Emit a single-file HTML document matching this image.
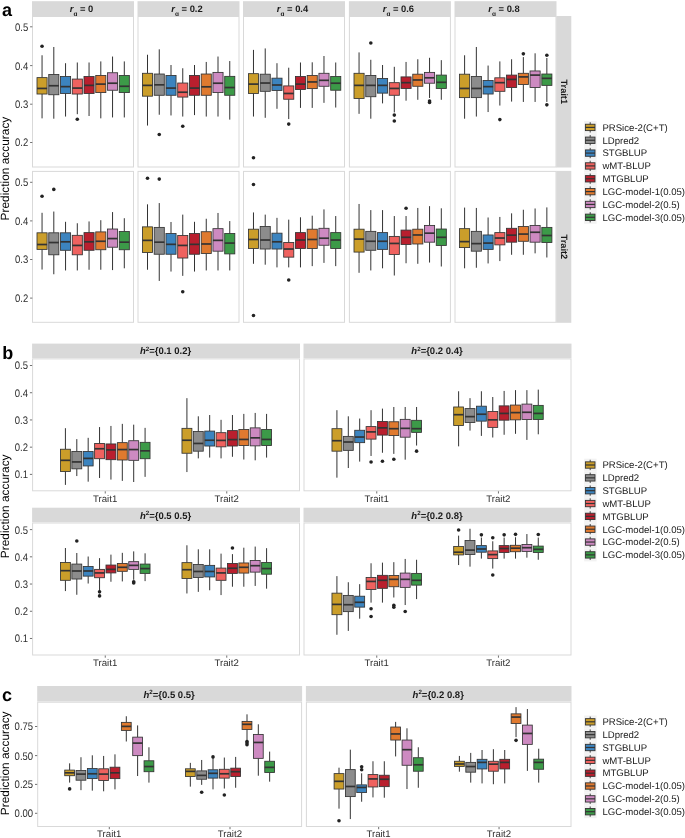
<!DOCTYPE html>
<html><head><meta charset="utf-8"><style>
html,body{margin:0;padding:0;background:#fff;}
body{width:685px;height:838px;overflow:hidden;}
svg{display:block;font-family:"Liberation Sans", sans-serif;will-change:transform;text-rendering:geometricPrecision;}
</style></head><body>
<svg width="685" height="838" viewBox="0 0 685 838">
<rect x="0" y="0" width="685" height="838" fill="#FFFFFF"/>
<text x="2.00" y="16.00" font-size="18" text-anchor="start" font-weight="bold" fill="#000" >a</text>
<rect x="32.00" y="1.20" width="102.00" height="14.80" fill="#D9D9D9"/>
<text x="81.50" y="12" font-size="9.4" font-weight="bold" fill="#1A1A1A" text-anchor="middle"><tspan font-style="italic">r</tspan><tspan font-size="6.5" dy="3.8">g</tspan><tspan dy="-3.8"> = 0</tspan></text>
<rect x="137.50" y="1.20" width="102.00" height="14.80" fill="#D9D9D9"/>
<text x="187.00" y="12" font-size="9.4" font-weight="bold" fill="#1A1A1A" text-anchor="middle"><tspan font-style="italic">r</tspan><tspan font-size="6.5" dy="3.8">g</tspan><tspan dy="-3.8"> = 0.2</tspan></text>
<rect x="243.00" y="1.20" width="102.00" height="14.80" fill="#D9D9D9"/>
<text x="292.50" y="12" font-size="9.4" font-weight="bold" fill="#1A1A1A" text-anchor="middle"><tspan font-style="italic">r</tspan><tspan font-size="6.5" dy="3.8">g</tspan><tspan dy="-3.8"> = 0.4</tspan></text>
<rect x="348.90" y="1.20" width="102.00" height="14.80" fill="#D9D9D9"/>
<text x="398.40" y="12" font-size="9.4" font-weight="bold" fill="#1A1A1A" text-anchor="middle"><tspan font-style="italic">r</tspan><tspan font-size="6.5" dy="3.8">g</tspan><tspan dy="-3.8"> = 0.6</tspan></text>
<rect x="454.50" y="1.20" width="102.00" height="14.80" fill="#D9D9D9"/>
<text x="504.00" y="12" font-size="9.4" font-weight="bold" fill="#1A1A1A" text-anchor="middle"><tspan font-style="italic">r</tspan><tspan font-size="6.5" dy="3.8">g</tspan><tspan dy="-3.8"> = 0.8</tspan></text>
<rect x="32.00" y="16.00" width="102.00" height="151.50" fill="#FFFFFF"/>
<rect x="32.50" y="16.50" width="101.00" height="150.50" fill="none" stroke="#D9D9D9" stroke-width="1"/>
<line x1="42.05" y1="55.28" x2="42.05" y2="77.62" stroke="#333333" stroke-width="1.0"/>
<line x1="42.05" y1="94.02" x2="42.05" y2="118.35" stroke="#333333" stroke-width="1.0"/>
<rect x="37.00" y="77.62" width="10.10" height="16.40" fill="#CB9E2A" stroke="#333333" stroke-width="0.85"/>
<line x1="37.00" y1="88.44" x2="47.09" y2="88.44" stroke="#333333" stroke-width="1.7"/>
<circle cx="42.05" cy="46.27" r="1.8" fill="#222"/>
<line x1="53.80" y1="46.99" x2="53.80" y2="74.56" stroke="#333333" stroke-width="1.0"/>
<line x1="53.80" y1="94.74" x2="53.80" y2="118.71" stroke="#333333" stroke-width="1.0"/>
<rect x="48.75" y="74.56" width="10.10" height="20.18" fill="#8C8C8C" stroke="#333333" stroke-width="0.85"/>
<line x1="48.75" y1="85.73" x2="58.84" y2="85.73" stroke="#333333" stroke-width="1.7"/>
<line x1="65.55" y1="63.21" x2="65.55" y2="76.54" stroke="#333333" stroke-width="1.0"/>
<line x1="65.55" y1="93.48" x2="65.55" y2="116.55" stroke="#333333" stroke-width="1.0"/>
<rect x="60.50" y="76.54" width="10.10" height="16.94" fill="#3C84BF" stroke="#333333" stroke-width="0.85"/>
<line x1="60.50" y1="86.63" x2="70.59" y2="86.63" stroke="#333333" stroke-width="1.7"/>
<line x1="77.30" y1="62.49" x2="77.30" y2="79.07" stroke="#333333" stroke-width="1.0"/>
<line x1="77.30" y1="94.02" x2="77.30" y2="114.20" stroke="#333333" stroke-width="1.0"/>
<rect x="72.25" y="79.07" width="10.10" height="14.96" fill="#EF625F" stroke="#333333" stroke-width="0.85"/>
<line x1="72.25" y1="88.08" x2="82.34" y2="88.08" stroke="#333333" stroke-width="1.7"/>
<circle cx="77.30" cy="119.25" r="1.8" fill="#222"/>
<line x1="89.05" y1="62.49" x2="89.05" y2="76.54" stroke="#333333" stroke-width="1.0"/>
<line x1="89.05" y1="93.48" x2="89.05" y2="116.01" stroke="#333333" stroke-width="1.0"/>
<rect x="84.00" y="76.54" width="10.10" height="16.94" fill="#B91F2E" stroke="#333333" stroke-width="0.85"/>
<line x1="84.00" y1="85.37" x2="94.09" y2="85.37" stroke="#333333" stroke-width="1.7"/>
<line x1="100.80" y1="61.41" x2="100.80" y2="75.46" stroke="#333333" stroke-width="1.0"/>
<line x1="100.80" y1="92.58" x2="100.80" y2="118.35" stroke="#333333" stroke-width="1.0"/>
<rect x="95.75" y="75.46" width="10.10" height="17.12" fill="#E07A2F" stroke="#333333" stroke-width="0.85"/>
<line x1="95.75" y1="84.11" x2="105.84" y2="84.11" stroke="#333333" stroke-width="1.7"/>
<line x1="112.55" y1="56.54" x2="112.55" y2="72.76" stroke="#333333" stroke-width="1.0"/>
<line x1="112.55" y1="90.24" x2="112.55" y2="117.45" stroke="#333333" stroke-width="1.0"/>
<rect x="107.50" y="72.76" width="10.10" height="17.48" fill="#CD8AC1" stroke="#333333" stroke-width="0.85"/>
<line x1="107.50" y1="83.21" x2="117.59" y2="83.21" stroke="#333333" stroke-width="1.7"/>
<line x1="124.30" y1="61.41" x2="124.30" y2="75.46" stroke="#333333" stroke-width="1.0"/>
<line x1="124.30" y1="92.58" x2="124.30" y2="117.45" stroke="#333333" stroke-width="1.0"/>
<rect x="119.25" y="75.46" width="10.10" height="17.12" fill="#3C9A48" stroke="#333333" stroke-width="0.85"/>
<line x1="119.25" y1="86.27" x2="129.34" y2="86.27" stroke="#333333" stroke-width="1.7"/>
<rect x="137.50" y="16.00" width="102.00" height="151.50" fill="#FFFFFF"/>
<rect x="138.00" y="16.50" width="101.00" height="150.50" fill="none" stroke="#D9D9D9" stroke-width="1"/>
<line x1="147.50" y1="54.74" x2="147.50" y2="73.30" stroke="#333333" stroke-width="1.0"/>
<line x1="147.50" y1="96.18" x2="147.50" y2="125.56" stroke="#333333" stroke-width="1.0"/>
<rect x="142.45" y="73.30" width="10.10" height="22.88" fill="#CB9E2A" stroke="#333333" stroke-width="0.85"/>
<line x1="142.45" y1="85.37" x2="152.56" y2="85.37" stroke="#333333" stroke-width="1.7"/>
<line x1="159.25" y1="49.34" x2="159.25" y2="74.02" stroke="#333333" stroke-width="1.0"/>
<line x1="159.25" y1="95.28" x2="159.25" y2="114.74" stroke="#333333" stroke-width="1.0"/>
<rect x="154.20" y="74.02" width="10.10" height="21.26" fill="#8C8C8C" stroke="#333333" stroke-width="0.85"/>
<line x1="154.20" y1="84.83" x2="164.31" y2="84.83" stroke="#333333" stroke-width="1.7"/>
<circle cx="159.25" cy="134.56" r="1.8" fill="#222"/>
<line x1="171.00" y1="65.01" x2="171.00" y2="75.46" stroke="#333333" stroke-width="1.0"/>
<line x1="171.00" y1="95.28" x2="171.00" y2="115.46" stroke="#333333" stroke-width="1.0"/>
<rect x="165.95" y="75.46" width="10.10" height="19.82" fill="#3C84BF" stroke="#333333" stroke-width="0.85"/>
<line x1="165.95" y1="88.08" x2="176.06" y2="88.08" stroke="#333333" stroke-width="1.7"/>
<line x1="182.75" y1="68.26" x2="182.75" y2="83.03" stroke="#333333" stroke-width="1.0"/>
<line x1="182.75" y1="97.09" x2="182.75" y2="116.55" stroke="#333333" stroke-width="1.0"/>
<rect x="177.70" y="83.03" width="10.10" height="14.05" fill="#EF625F" stroke="#333333" stroke-width="0.85"/>
<line x1="177.70" y1="92.22" x2="187.81" y2="92.22" stroke="#333333" stroke-width="1.7"/>
<circle cx="182.75" cy="126.28" r="1.8" fill="#222"/>
<line x1="194.50" y1="65.01" x2="194.50" y2="75.46" stroke="#333333" stroke-width="1.0"/>
<line x1="194.50" y1="95.28" x2="194.50" y2="115.10" stroke="#333333" stroke-width="1.0"/>
<rect x="189.45" y="75.46" width="10.10" height="19.82" fill="#B91F2E" stroke="#333333" stroke-width="0.85"/>
<line x1="189.45" y1="88.08" x2="199.56" y2="88.08" stroke="#333333" stroke-width="1.7"/>
<line x1="206.25" y1="61.95" x2="206.25" y2="74.02" stroke="#333333" stroke-width="1.0"/>
<line x1="206.25" y1="95.28" x2="206.25" y2="116.55" stroke="#333333" stroke-width="1.0"/>
<rect x="201.20" y="74.02" width="10.10" height="21.26" fill="#E07A2F" stroke="#333333" stroke-width="0.85"/>
<line x1="201.20" y1="86.81" x2="211.31" y2="86.81" stroke="#333333" stroke-width="1.7"/>
<line x1="218.00" y1="56.54" x2="218.00" y2="72.40" stroke="#333333" stroke-width="1.0"/>
<line x1="218.00" y1="92.58" x2="218.00" y2="116.55" stroke="#333333" stroke-width="1.0"/>
<rect x="212.95" y="72.40" width="10.10" height="20.18" fill="#CD8AC1" stroke="#333333" stroke-width="0.85"/>
<line x1="212.95" y1="83.21" x2="223.06" y2="83.21" stroke="#333333" stroke-width="1.7"/>
<line x1="229.75" y1="61.05" x2="229.75" y2="76.36" stroke="#333333" stroke-width="1.0"/>
<line x1="229.75" y1="95.28" x2="229.75" y2="119.61" stroke="#333333" stroke-width="1.0"/>
<rect x="224.70" y="76.36" width="10.10" height="18.92" fill="#3C9A48" stroke="#333333" stroke-width="0.85"/>
<line x1="224.70" y1="87.54" x2="234.81" y2="87.54" stroke="#333333" stroke-width="1.7"/>
<rect x="243.00" y="16.00" width="102.00" height="151.50" fill="#FFFFFF"/>
<rect x="243.50" y="16.50" width="101.00" height="150.50" fill="none" stroke="#D9D9D9" stroke-width="1"/>
<line x1="253.48" y1="49.88" x2="253.48" y2="73.66" stroke="#333333" stroke-width="1.0"/>
<line x1="253.48" y1="93.48" x2="253.48" y2="116.55" stroke="#333333" stroke-width="1.0"/>
<rect x="248.43" y="73.66" width="10.10" height="19.82" fill="#CB9E2A" stroke="#333333" stroke-width="0.85"/>
<line x1="248.43" y1="84.11" x2="258.53" y2="84.11" stroke="#333333" stroke-width="1.7"/>
<circle cx="253.48" cy="157.81" r="1.8" fill="#222"/>
<line x1="265.23" y1="48.43" x2="265.23" y2="74.20" stroke="#333333" stroke-width="1.0"/>
<line x1="265.23" y1="91.32" x2="265.23" y2="117.81" stroke="#333333" stroke-width="1.0"/>
<rect x="260.18" y="74.20" width="10.10" height="17.12" fill="#8C8C8C" stroke="#333333" stroke-width="0.85"/>
<line x1="260.18" y1="83.03" x2="270.28" y2="83.03" stroke="#333333" stroke-width="1.7"/>
<line x1="276.98" y1="63.21" x2="276.98" y2="78.17" stroke="#333333" stroke-width="1.0"/>
<line x1="276.98" y1="90.42" x2="276.98" y2="108.80" stroke="#333333" stroke-width="1.0"/>
<rect x="271.93" y="78.17" width="10.10" height="12.25" fill="#3C84BF" stroke="#333333" stroke-width="0.85"/>
<line x1="271.93" y1="85.01" x2="282.03" y2="85.01" stroke="#333333" stroke-width="1.7"/>
<line x1="288.73" y1="67.71" x2="288.73" y2="85.91" stroke="#333333" stroke-width="1.0"/>
<line x1="288.73" y1="99.25" x2="288.73" y2="119.07" stroke="#333333" stroke-width="1.0"/>
<rect x="283.68" y="85.91" width="10.10" height="13.33" fill="#EF625F" stroke="#333333" stroke-width="0.85"/>
<line x1="283.68" y1="93.48" x2="293.78" y2="93.48" stroke="#333333" stroke-width="1.7"/>
<circle cx="288.73" cy="124.11" r="1.8" fill="#222"/>
<line x1="300.48" y1="62.49" x2="300.48" y2="76.54" stroke="#333333" stroke-width="1.0"/>
<line x1="300.48" y1="89.52" x2="300.48" y2="107.90" stroke="#333333" stroke-width="1.0"/>
<rect x="295.43" y="76.54" width="10.10" height="12.97" fill="#B91F2E" stroke="#333333" stroke-width="0.85"/>
<line x1="295.43" y1="84.11" x2="305.53" y2="84.11" stroke="#333333" stroke-width="1.7"/>
<line x1="312.23" y1="62.31" x2="312.23" y2="75.46" stroke="#333333" stroke-width="1.0"/>
<line x1="312.23" y1="88.62" x2="312.23" y2="107.90" stroke="#333333" stroke-width="1.0"/>
<rect x="307.18" y="75.46" width="10.10" height="13.15" fill="#E07A2F" stroke="#333333" stroke-width="0.85"/>
<line x1="307.18" y1="81.95" x2="317.28" y2="81.95" stroke="#333333" stroke-width="1.7"/>
<line x1="323.98" y1="56.00" x2="323.98" y2="73.30" stroke="#333333" stroke-width="1.0"/>
<line x1="323.98" y1="86.27" x2="323.98" y2="102.85" stroke="#333333" stroke-width="1.0"/>
<rect x="318.93" y="73.30" width="10.10" height="12.97" fill="#CD8AC1" stroke="#333333" stroke-width="0.85"/>
<line x1="318.93" y1="80.33" x2="329.03" y2="80.33" stroke="#333333" stroke-width="1.7"/>
<line x1="335.73" y1="62.49" x2="335.73" y2="76.54" stroke="#333333" stroke-width="1.0"/>
<line x1="335.73" y1="90.24" x2="335.73" y2="107.54" stroke="#333333" stroke-width="1.0"/>
<rect x="330.68" y="76.54" width="10.10" height="13.69" fill="#3C9A48" stroke="#333333" stroke-width="0.85"/>
<line x1="330.68" y1="83.21" x2="340.78" y2="83.21" stroke="#333333" stroke-width="1.7"/>
<rect x="348.90" y="16.00" width="102.00" height="151.50" fill="#FFFFFF"/>
<rect x="349.40" y="16.50" width="101.00" height="150.50" fill="none" stroke="#D9D9D9" stroke-width="1"/>
<line x1="359.06" y1="52.40" x2="359.06" y2="73.30" stroke="#333333" stroke-width="1.0"/>
<line x1="359.06" y1="98.53" x2="359.06" y2="113.84" stroke="#333333" stroke-width="1.0"/>
<rect x="354.00" y="73.30" width="10.10" height="25.23" fill="#CB9E2A" stroke="#333333" stroke-width="0.85"/>
<line x1="354.00" y1="85.37" x2="364.11" y2="85.37" stroke="#333333" stroke-width="1.7"/>
<line x1="370.81" y1="59.79" x2="370.81" y2="75.46" stroke="#333333" stroke-width="1.0"/>
<line x1="370.81" y1="96.73" x2="370.81" y2="118.71" stroke="#333333" stroke-width="1.0"/>
<rect x="365.75" y="75.46" width="10.10" height="21.26" fill="#8C8C8C" stroke="#333333" stroke-width="0.85"/>
<line x1="365.75" y1="85.37" x2="375.86" y2="85.37" stroke="#333333" stroke-width="1.7"/>
<circle cx="370.81" cy="43.03" r="1.8" fill="#222"/>
<line x1="382.56" y1="65.01" x2="382.56" y2="78.53" stroke="#333333" stroke-width="1.0"/>
<line x1="382.56" y1="93.12" x2="382.56" y2="103.39" stroke="#333333" stroke-width="1.0"/>
<rect x="377.50" y="78.53" width="10.10" height="14.60" fill="#3C84BF" stroke="#333333" stroke-width="0.85"/>
<line x1="377.50" y1="85.37" x2="387.61" y2="85.37" stroke="#333333" stroke-width="1.7"/>
<line x1="394.31" y1="66.81" x2="394.31" y2="82.67" stroke="#333333" stroke-width="1.0"/>
<line x1="394.31" y1="95.28" x2="394.31" y2="112.40" stroke="#333333" stroke-width="1.0"/>
<rect x="389.25" y="82.67" width="10.10" height="12.61" fill="#EF625F" stroke="#333333" stroke-width="0.85"/>
<line x1="389.25" y1="88.44" x2="399.36" y2="88.44" stroke="#333333" stroke-width="1.7"/>
<circle cx="394.31" cy="115.10" r="1.8" fill="#222"/>
<circle cx="394.31" cy="121.05" r="1.8" fill="#222"/>
<line x1="406.06" y1="61.95" x2="406.06" y2="76.90" stroke="#333333" stroke-width="1.0"/>
<line x1="406.06" y1="88.44" x2="406.06" y2="100.69" stroke="#333333" stroke-width="1.0"/>
<rect x="401.00" y="76.90" width="10.10" height="11.53" fill="#B91F2E" stroke="#333333" stroke-width="0.85"/>
<line x1="401.00" y1="82.67" x2="411.11" y2="82.67" stroke="#333333" stroke-width="1.7"/>
<line x1="417.81" y1="59.25" x2="417.81" y2="74.20" stroke="#333333" stroke-width="1.0"/>
<line x1="417.81" y1="86.27" x2="417.81" y2="99.79" stroke="#333333" stroke-width="1.0"/>
<rect x="412.75" y="74.20" width="10.10" height="12.07" fill="#E07A2F" stroke="#333333" stroke-width="0.85"/>
<line x1="412.75" y1="79.97" x2="422.86" y2="79.97" stroke="#333333" stroke-width="1.7"/>
<line x1="429.56" y1="57.80" x2="429.56" y2="72.40" stroke="#333333" stroke-width="1.0"/>
<line x1="429.56" y1="83.21" x2="429.56" y2="97.99" stroke="#333333" stroke-width="1.0"/>
<rect x="424.50" y="72.40" width="10.10" height="10.81" fill="#CD8AC1" stroke="#333333" stroke-width="0.85"/>
<line x1="424.50" y1="77.81" x2="434.61" y2="77.81" stroke="#333333" stroke-width="1.7"/>
<circle cx="429.56" cy="101.05" r="1.8" fill="#222"/>
<circle cx="429.56" cy="102.49" r="1.8" fill="#222"/>
<line x1="441.31" y1="60.15" x2="441.31" y2="75.10" stroke="#333333" stroke-width="1.0"/>
<line x1="441.31" y1="88.44" x2="441.31" y2="99.79" stroke="#333333" stroke-width="1.0"/>
<rect x="436.25" y="75.10" width="10.10" height="13.33" fill="#3C9A48" stroke="#333333" stroke-width="0.85"/>
<line x1="436.25" y1="82.31" x2="446.36" y2="82.31" stroke="#333333" stroke-width="1.7"/>
<rect x="454.50" y="16.00" width="102.00" height="151.50" fill="#FFFFFF"/>
<rect x="455.00" y="16.50" width="101.00" height="150.50" fill="none" stroke="#D9D9D9" stroke-width="1"/>
<line x1="464.60" y1="55.28" x2="464.60" y2="74.20" stroke="#333333" stroke-width="1.0"/>
<line x1="464.60" y1="97.63" x2="464.60" y2="118.71" stroke="#333333" stroke-width="1.0"/>
<rect x="459.55" y="74.20" width="10.10" height="23.42" fill="#CB9E2A" stroke="#333333" stroke-width="0.85"/>
<line x1="459.55" y1="88.44" x2="469.65" y2="88.44" stroke="#333333" stroke-width="1.7"/>
<line x1="476.35" y1="46.99" x2="476.35" y2="76.54" stroke="#333333" stroke-width="1.0"/>
<line x1="476.35" y1="97.63" x2="476.35" y2="116.55" stroke="#333333" stroke-width="1.0"/>
<rect x="471.30" y="76.54" width="10.10" height="21.08" fill="#8C8C8C" stroke="#333333" stroke-width="0.85"/>
<line x1="471.30" y1="88.44" x2="481.40" y2="88.44" stroke="#333333" stroke-width="1.7"/>
<line x1="488.10" y1="65.55" x2="488.10" y2="80.51" stroke="#333333" stroke-width="1.0"/>
<line x1="488.10" y1="94.02" x2="488.10" y2="112.04" stroke="#333333" stroke-width="1.0"/>
<rect x="483.05" y="80.51" width="10.10" height="13.51" fill="#3C84BF" stroke="#333333" stroke-width="0.85"/>
<line x1="483.05" y1="86.63" x2="493.15" y2="86.63" stroke="#333333" stroke-width="1.7"/>
<line x1="499.85" y1="61.41" x2="499.85" y2="77.81" stroke="#333333" stroke-width="1.0"/>
<line x1="499.85" y1="91.32" x2="499.85" y2="105.55" stroke="#333333" stroke-width="1.0"/>
<rect x="494.80" y="77.81" width="10.10" height="13.51" fill="#EF625F" stroke="#333333" stroke-width="0.85"/>
<line x1="494.80" y1="82.67" x2="504.90" y2="82.67" stroke="#333333" stroke-width="1.7"/>
<circle cx="499.85" cy="119.61" r="1.8" fill="#222"/>
<line x1="511.60" y1="59.25" x2="511.60" y2="75.10" stroke="#333333" stroke-width="1.0"/>
<line x1="511.60" y1="87.54" x2="511.60" y2="101.59" stroke="#333333" stroke-width="1.0"/>
<rect x="506.55" y="75.10" width="10.10" height="12.43" fill="#B91F2E" stroke="#333333" stroke-width="0.85"/>
<line x1="506.55" y1="79.43" x2="516.64" y2="79.43" stroke="#333333" stroke-width="1.7"/>
<line x1="523.35" y1="57.08" x2="523.35" y2="73.30" stroke="#333333" stroke-width="1.0"/>
<line x1="523.35" y1="84.47" x2="523.35" y2="101.95" stroke="#333333" stroke-width="1.0"/>
<rect x="518.30" y="73.30" width="10.10" height="11.17" fill="#E07A2F" stroke="#333333" stroke-width="0.85"/>
<line x1="518.30" y1="76.90" x2="528.39" y2="76.90" stroke="#333333" stroke-width="1.7"/>
<circle cx="523.35" cy="53.84" r="1.8" fill="#222"/>
<line x1="535.10" y1="53.30" x2="535.10" y2="70.96" stroke="#333333" stroke-width="1.0"/>
<line x1="535.10" y1="87.54" x2="535.10" y2="101.95" stroke="#333333" stroke-width="1.0"/>
<rect x="530.05" y="70.96" width="10.10" height="16.58" fill="#CD8AC1" stroke="#333333" stroke-width="0.85"/>
<line x1="530.05" y1="75.10" x2="540.14" y2="75.10" stroke="#333333" stroke-width="1.7"/>
<line x1="546.85" y1="57.98" x2="546.85" y2="74.02" stroke="#333333" stroke-width="1.0"/>
<line x1="546.85" y1="85.37" x2="546.85" y2="101.95" stroke="#333333" stroke-width="1.0"/>
<rect x="541.80" y="74.02" width="10.10" height="11.35" fill="#3C9A48" stroke="#333333" stroke-width="0.85"/>
<line x1="541.80" y1="78.35" x2="551.89" y2="78.35" stroke="#333333" stroke-width="1.7"/>
<circle cx="546.85" cy="55.28" r="1.8" fill="#222"/>
<circle cx="546.85" cy="104.83" r="1.8" fill="#222"/>
<line x1="30.10" y1="26.80" x2="32.30" y2="26.80" stroke="#4D4D4D" stroke-width="0.8"/>
<text x="0" y="0" transform="translate(28.20,30.70) scale(0.97,1.12)" font-size="9.8" text-anchor="end" font-weight="normal" fill="#2E2E2E" >0.5</text>
<line x1="30.10" y1="65.60" x2="32.30" y2="65.60" stroke="#4D4D4D" stroke-width="0.8"/>
<text x="0" y="0" transform="translate(28.20,69.50) scale(0.97,1.12)" font-size="9.8" text-anchor="end" font-weight="normal" fill="#2E2E2E" >0.4</text>
<line x1="30.10" y1="104.20" x2="32.30" y2="104.20" stroke="#4D4D4D" stroke-width="0.8"/>
<text x="0" y="0" transform="translate(28.20,108.10) scale(0.97,1.12)" font-size="9.8" text-anchor="end" font-weight="normal" fill="#2E2E2E" >0.3</text>
<line x1="30.10" y1="142.50" x2="32.30" y2="142.50" stroke="#4D4D4D" stroke-width="0.8"/>
<text x="0" y="0" transform="translate(28.20,146.40) scale(0.97,1.12)" font-size="9.8" text-anchor="end" font-weight="normal" fill="#2E2E2E" >0.2</text>
<rect x="556.20" y="16.00" width="15.10" height="151.50" fill="#D9D9D9"/>
<text x="0" y="0" font-size="9.2" font-weight="bold" fill="#1A1A1A" text-anchor="middle" transform="translate(560.55,91.75) rotate(90)">Trait1</text>
<rect x="32.00" y="170.90" width="102.00" height="151.90" fill="#FFFFFF"/>
<rect x="32.50" y="171.40" width="101.00" height="150.90" fill="none" stroke="#D9D9D9" stroke-width="1"/>
<line x1="42.05" y1="212.80" x2="42.05" y2="232.81" stroke="#333333" stroke-width="1.0"/>
<line x1="42.05" y1="249.38" x2="42.05" y2="269.56" stroke="#333333" stroke-width="1.0"/>
<rect x="37.00" y="232.81" width="10.10" height="16.58" fill="#CB9E2A" stroke="#333333" stroke-width="0.85"/>
<line x1="37.00" y1="244.52" x2="47.09" y2="244.52" stroke="#333333" stroke-width="1.7"/>
<circle cx="42.05" cy="196.23" r="1.8" fill="#222"/>
<line x1="53.80" y1="211.54" x2="53.80" y2="232.81" stroke="#333333" stroke-width="1.0"/>
<line x1="53.80" y1="254.79" x2="53.80" y2="274.25" stroke="#333333" stroke-width="1.0"/>
<rect x="48.75" y="232.81" width="10.10" height="21.98" fill="#8C8C8C" stroke="#333333" stroke-width="0.85"/>
<line x1="48.75" y1="242.54" x2="58.84" y2="242.54" stroke="#333333" stroke-width="1.7"/>
<circle cx="53.80" cy="189.38" r="1.8" fill="#222"/>
<line x1="65.55" y1="221.81" x2="65.55" y2="232.81" stroke="#333333" stroke-width="1.0"/>
<line x1="65.55" y1="250.28" x2="65.55" y2="270.46" stroke="#333333" stroke-width="1.0"/>
<rect x="60.50" y="232.81" width="10.10" height="17.48" fill="#3C84BF" stroke="#333333" stroke-width="0.85"/>
<line x1="60.50" y1="241.81" x2="70.59" y2="241.81" stroke="#333333" stroke-width="1.7"/>
<line x1="77.30" y1="223.26" x2="77.30" y2="235.33" stroke="#333333" stroke-width="1.0"/>
<line x1="77.30" y1="254.79" x2="77.30" y2="270.46" stroke="#333333" stroke-width="1.0"/>
<rect x="72.25" y="235.33" width="10.10" height="19.46" fill="#EF625F" stroke="#333333" stroke-width="0.85"/>
<line x1="72.25" y1="245.42" x2="82.34" y2="245.42" stroke="#333333" stroke-width="1.7"/>
<line x1="89.05" y1="221.45" x2="89.05" y2="232.62" stroke="#333333" stroke-width="1.0"/>
<line x1="89.05" y1="250.28" x2="89.05" y2="269.74" stroke="#333333" stroke-width="1.0"/>
<rect x="84.00" y="232.62" width="10.10" height="17.66" fill="#B91F2E" stroke="#333333" stroke-width="0.85"/>
<line x1="84.00" y1="241.81" x2="94.09" y2="241.81" stroke="#333333" stroke-width="1.7"/>
<line x1="100.80" y1="220.19" x2="100.80" y2="231.90" stroke="#333333" stroke-width="1.0"/>
<line x1="100.80" y1="249.74" x2="100.80" y2="269.74" stroke="#333333" stroke-width="1.0"/>
<rect x="95.75" y="231.90" width="10.10" height="17.84" fill="#E07A2F" stroke="#333333" stroke-width="0.85"/>
<line x1="95.75" y1="241.27" x2="105.84" y2="241.27" stroke="#333333" stroke-width="1.7"/>
<line x1="112.55" y1="212.08" x2="112.55" y2="229.02" stroke="#333333" stroke-width="1.0"/>
<line x1="112.55" y1="247.22" x2="112.55" y2="270.10" stroke="#333333" stroke-width="1.0"/>
<rect x="107.50" y="229.02" width="10.10" height="18.20" fill="#CD8AC1" stroke="#333333" stroke-width="0.85"/>
<line x1="107.50" y1="238.57" x2="117.59" y2="238.57" stroke="#333333" stroke-width="1.7"/>
<line x1="124.30" y1="218.21" x2="124.30" y2="231.54" stroke="#333333" stroke-width="1.0"/>
<line x1="124.30" y1="249.74" x2="124.30" y2="268.30" stroke="#333333" stroke-width="1.0"/>
<rect x="119.25" y="231.54" width="10.10" height="18.20" fill="#3C9A48" stroke="#333333" stroke-width="0.85"/>
<line x1="119.25" y1="242.18" x2="129.34" y2="242.18" stroke="#333333" stroke-width="1.7"/>
<rect x="137.50" y="170.90" width="102.00" height="151.90" fill="#FFFFFF"/>
<rect x="138.00" y="171.40" width="101.00" height="150.90" fill="none" stroke="#D9D9D9" stroke-width="1"/>
<line x1="147.50" y1="204.34" x2="147.50" y2="226.86" stroke="#333333" stroke-width="1.0"/>
<line x1="147.50" y1="252.45" x2="147.50" y2="269.74" stroke="#333333" stroke-width="1.0"/>
<rect x="142.45" y="226.86" width="10.10" height="25.59" fill="#CB9E2A" stroke="#333333" stroke-width="0.85"/>
<line x1="142.45" y1="240.37" x2="152.56" y2="240.37" stroke="#333333" stroke-width="1.7"/>
<circle cx="147.50" cy="178.21" r="1.8" fill="#222"/>
<line x1="159.25" y1="203.07" x2="159.25" y2="227.40" stroke="#333333" stroke-width="1.0"/>
<line x1="159.25" y1="254.25" x2="159.25" y2="280.92" stroke="#333333" stroke-width="1.0"/>
<rect x="154.20" y="227.40" width="10.10" height="26.85" fill="#8C8C8C" stroke="#333333" stroke-width="0.85"/>
<line x1="154.20" y1="242.18" x2="164.31" y2="242.18" stroke="#333333" stroke-width="1.7"/>
<circle cx="159.25" cy="179.11" r="1.8" fill="#222"/>
<line x1="171.00" y1="221.99" x2="171.00" y2="233.53" stroke="#333333" stroke-width="1.0"/>
<line x1="171.00" y1="254.25" x2="171.00" y2="271.55" stroke="#333333" stroke-width="1.0"/>
<rect x="165.95" y="233.53" width="10.10" height="20.72" fill="#3C84BF" stroke="#333333" stroke-width="0.85"/>
<line x1="165.95" y1="244.34" x2="176.06" y2="244.34" stroke="#333333" stroke-width="1.7"/>
<line x1="182.75" y1="214.61" x2="182.75" y2="235.51" stroke="#333333" stroke-width="1.0"/>
<line x1="182.75" y1="258.03" x2="182.75" y2="275.87" stroke="#333333" stroke-width="1.0"/>
<rect x="177.70" y="235.51" width="10.10" height="22.52" fill="#EF625F" stroke="#333333" stroke-width="0.85"/>
<line x1="177.70" y1="245.42" x2="187.81" y2="245.42" stroke="#333333" stroke-width="1.7"/>
<circle cx="182.75" cy="291.73" r="1.8" fill="#222"/>
<line x1="194.50" y1="221.81" x2="194.50" y2="233.53" stroke="#333333" stroke-width="1.0"/>
<line x1="194.50" y1="254.25" x2="194.50" y2="271.55" stroke="#333333" stroke-width="1.0"/>
<rect x="189.45" y="233.53" width="10.10" height="20.72" fill="#B91F2E" stroke="#333333" stroke-width="0.85"/>
<line x1="189.45" y1="244.34" x2="199.56" y2="244.34" stroke="#333333" stroke-width="1.7"/>
<line x1="206.25" y1="218.75" x2="206.25" y2="231.72" stroke="#333333" stroke-width="1.0"/>
<line x1="206.25" y1="253.53" x2="206.25" y2="270.46" stroke="#333333" stroke-width="1.0"/>
<rect x="201.20" y="231.72" width="10.10" height="21.80" fill="#E07A2F" stroke="#333333" stroke-width="0.85"/>
<line x1="201.20" y1="243.98" x2="211.31" y2="243.98" stroke="#333333" stroke-width="1.7"/>
<line x1="218.00" y1="212.98" x2="218.00" y2="228.66" stroke="#333333" stroke-width="1.0"/>
<line x1="218.00" y1="251.18" x2="218.00" y2="270.46" stroke="#333333" stroke-width="1.0"/>
<rect x="212.95" y="228.66" width="10.10" height="22.52" fill="#CD8AC1" stroke="#333333" stroke-width="0.85"/>
<line x1="212.95" y1="240.37" x2="223.06" y2="240.37" stroke="#333333" stroke-width="1.7"/>
<line x1="229.75" y1="221.09" x2="229.75" y2="233.53" stroke="#333333" stroke-width="1.0"/>
<line x1="229.75" y1="253.89" x2="229.75" y2="270.46" stroke="#333333" stroke-width="1.0"/>
<rect x="224.70" y="233.53" width="10.10" height="20.36" fill="#3C9A48" stroke="#333333" stroke-width="0.85"/>
<line x1="224.70" y1="243.08" x2="234.81" y2="243.08" stroke="#333333" stroke-width="1.7"/>
<rect x="243.00" y="170.90" width="102.00" height="151.90" fill="#FFFFFF"/>
<rect x="243.50" y="171.40" width="101.00" height="150.90" fill="none" stroke="#D9D9D9" stroke-width="1"/>
<line x1="253.48" y1="212.44" x2="253.48" y2="229.20" stroke="#333333" stroke-width="1.0"/>
<line x1="253.48" y1="248.48" x2="253.48" y2="263.80" stroke="#333333" stroke-width="1.0"/>
<rect x="248.43" y="229.20" width="10.10" height="19.28" fill="#CB9E2A" stroke="#333333" stroke-width="0.85"/>
<line x1="248.43" y1="239.47" x2="258.53" y2="239.47" stroke="#333333" stroke-width="1.7"/>
<circle cx="253.48" cy="184.51" r="1.8" fill="#222"/>
<circle cx="253.48" cy="315.51" r="1.8" fill="#222"/>
<line x1="265.23" y1="214.61" x2="265.23" y2="226.50" stroke="#333333" stroke-width="1.0"/>
<line x1="265.23" y1="249.02" x2="265.23" y2="264.70" stroke="#333333" stroke-width="1.0"/>
<rect x="260.18" y="226.50" width="10.10" height="22.52" fill="#8C8C8C" stroke="#333333" stroke-width="0.85"/>
<line x1="260.18" y1="240.01" x2="270.28" y2="240.01" stroke="#333333" stroke-width="1.7"/>
<line x1="276.98" y1="217.85" x2="276.98" y2="233.17" stroke="#333333" stroke-width="1.0"/>
<line x1="276.98" y1="249.02" x2="276.98" y2="267.40" stroke="#333333" stroke-width="1.0"/>
<rect x="271.93" y="233.17" width="10.10" height="15.86" fill="#3C84BF" stroke="#333333" stroke-width="0.85"/>
<line x1="271.93" y1="241.81" x2="282.03" y2="241.81" stroke="#333333" stroke-width="1.7"/>
<line x1="288.73" y1="219.65" x2="288.73" y2="242.54" stroke="#333333" stroke-width="1.0"/>
<line x1="288.73" y1="257.13" x2="288.73" y2="267.40" stroke="#333333" stroke-width="1.0"/>
<rect x="283.68" y="242.54" width="10.10" height="14.60" fill="#EF625F" stroke="#333333" stroke-width="0.85"/>
<line x1="283.68" y1="249.02" x2="293.78" y2="249.02" stroke="#333333" stroke-width="1.7"/>
<circle cx="288.73" cy="280.01" r="1.8" fill="#222"/>
<line x1="300.48" y1="217.31" x2="300.48" y2="232.62" stroke="#333333" stroke-width="1.0"/>
<line x1="300.48" y1="248.48" x2="300.48" y2="267.40" stroke="#333333" stroke-width="1.0"/>
<rect x="295.43" y="232.62" width="10.10" height="15.86" fill="#B91F2E" stroke="#333333" stroke-width="0.85"/>
<line x1="295.43" y1="240.01" x2="305.53" y2="240.01" stroke="#333333" stroke-width="1.7"/>
<line x1="312.23" y1="215.69" x2="312.23" y2="229.20" stroke="#333333" stroke-width="1.0"/>
<line x1="312.23" y1="248.48" x2="312.23" y2="266.14" stroke="#333333" stroke-width="1.0"/>
<rect x="307.18" y="229.20" width="10.10" height="19.28" fill="#E07A2F" stroke="#333333" stroke-width="0.85"/>
<line x1="307.18" y1="239.47" x2="317.28" y2="239.47" stroke="#333333" stroke-width="1.7"/>
<line x1="323.98" y1="209.38" x2="323.98" y2="228.30" stroke="#333333" stroke-width="1.0"/>
<line x1="323.98" y1="245.24" x2="323.98" y2="262.90" stroke="#333333" stroke-width="1.0"/>
<rect x="318.93" y="228.30" width="10.10" height="16.94" fill="#CD8AC1" stroke="#333333" stroke-width="0.85"/>
<line x1="318.93" y1="238.21" x2="329.03" y2="238.21" stroke="#333333" stroke-width="1.7"/>
<line x1="335.73" y1="216.05" x2="335.73" y2="232.62" stroke="#333333" stroke-width="1.0"/>
<line x1="335.73" y1="248.48" x2="335.73" y2="266.14" stroke="#333333" stroke-width="1.0"/>
<rect x="330.68" y="232.62" width="10.10" height="15.86" fill="#3C9A48" stroke="#333333" stroke-width="0.85"/>
<line x1="330.68" y1="240.01" x2="340.78" y2="240.01" stroke="#333333" stroke-width="1.7"/>
<rect x="348.90" y="170.90" width="102.00" height="151.90" fill="#FFFFFF"/>
<rect x="349.40" y="171.40" width="101.00" height="150.90" fill="none" stroke="#D9D9D9" stroke-width="1"/>
<line x1="359.06" y1="203.97" x2="359.06" y2="229.20" stroke="#333333" stroke-width="1.0"/>
<line x1="359.06" y1="252.09" x2="359.06" y2="272.81" stroke="#333333" stroke-width="1.0"/>
<rect x="354.00" y="229.20" width="10.10" height="22.88" fill="#CB9E2A" stroke="#333333" stroke-width="0.85"/>
<line x1="354.00" y1="239.11" x2="364.11" y2="239.11" stroke="#333333" stroke-width="1.7"/>
<line x1="370.81" y1="210.10" x2="370.81" y2="231.36" stroke="#333333" stroke-width="1.0"/>
<line x1="370.81" y1="250.28" x2="370.81" y2="270.46" stroke="#333333" stroke-width="1.0"/>
<rect x="365.75" y="231.36" width="10.10" height="18.92" fill="#8C8C8C" stroke="#333333" stroke-width="0.85"/>
<line x1="365.75" y1="241.27" x2="375.86" y2="241.27" stroke="#333333" stroke-width="1.7"/>
<line x1="382.56" y1="210.10" x2="382.56" y2="232.62" stroke="#333333" stroke-width="1.0"/>
<line x1="382.56" y1="249.38" x2="382.56" y2="268.30" stroke="#333333" stroke-width="1.0"/>
<rect x="377.50" y="232.62" width="10.10" height="16.76" fill="#3C84BF" stroke="#333333" stroke-width="0.85"/>
<line x1="377.50" y1="241.27" x2="387.61" y2="241.27" stroke="#333333" stroke-width="1.7"/>
<line x1="394.31" y1="216.05" x2="394.31" y2="236.41" stroke="#333333" stroke-width="1.0"/>
<line x1="394.31" y1="254.43" x2="394.31" y2="275.51" stroke="#333333" stroke-width="1.0"/>
<rect x="389.25" y="236.41" width="10.10" height="18.02" fill="#EF625F" stroke="#333333" stroke-width="0.85"/>
<line x1="389.25" y1="243.44" x2="399.36" y2="243.44" stroke="#333333" stroke-width="1.7"/>
<line x1="406.06" y1="216.05" x2="406.06" y2="230.10" stroke="#333333" stroke-width="1.0"/>
<line x1="406.06" y1="244.52" x2="406.06" y2="263.26" stroke="#333333" stroke-width="1.0"/>
<rect x="401.00" y="230.10" width="10.10" height="14.42" fill="#B91F2E" stroke="#333333" stroke-width="0.85"/>
<line x1="401.00" y1="237.31" x2="411.11" y2="237.31" stroke="#333333" stroke-width="1.7"/>
<circle cx="406.06" cy="208.30" r="1.8" fill="#222"/>
<line x1="417.81" y1="207.94" x2="417.81" y2="229.20" stroke="#333333" stroke-width="1.0"/>
<line x1="417.81" y1="243.98" x2="417.81" y2="263.80" stroke="#333333" stroke-width="1.0"/>
<rect x="412.75" y="229.20" width="10.10" height="14.78" fill="#E07A2F" stroke="#333333" stroke-width="0.85"/>
<line x1="412.75" y1="234.97" x2="422.86" y2="234.97" stroke="#333333" stroke-width="1.7"/>
<line x1="429.56" y1="206.14" x2="429.56" y2="225.42" stroke="#333333" stroke-width="1.0"/>
<line x1="429.56" y1="242.18" x2="429.56" y2="262.54" stroke="#333333" stroke-width="1.0"/>
<rect x="424.50" y="225.42" width="10.10" height="16.76" fill="#CD8AC1" stroke="#333333" stroke-width="0.85"/>
<line x1="424.50" y1="233.17" x2="434.61" y2="233.17" stroke="#333333" stroke-width="1.7"/>
<line x1="441.31" y1="208.30" x2="441.31" y2="229.02" stroke="#333333" stroke-width="1.0"/>
<line x1="441.31" y1="245.42" x2="441.31" y2="266.50" stroke="#333333" stroke-width="1.0"/>
<rect x="436.25" y="229.02" width="10.10" height="16.40" fill="#3C9A48" stroke="#333333" stroke-width="0.85"/>
<line x1="436.25" y1="237.31" x2="446.36" y2="237.31" stroke="#333333" stroke-width="1.7"/>
<rect x="454.50" y="170.90" width="102.00" height="151.90" fill="#FFFFFF"/>
<rect x="455.00" y="171.40" width="101.00" height="150.90" fill="none" stroke="#D9D9D9" stroke-width="1"/>
<line x1="464.60" y1="207.58" x2="464.60" y2="228.66" stroke="#333333" stroke-width="1.0"/>
<line x1="464.60" y1="247.58" x2="464.60" y2="268.30" stroke="#333333" stroke-width="1.0"/>
<rect x="459.55" y="228.66" width="10.10" height="18.92" fill="#CB9E2A" stroke="#333333" stroke-width="0.85"/>
<line x1="459.55" y1="241.63" x2="469.65" y2="241.63" stroke="#333333" stroke-width="1.7"/>
<line x1="476.35" y1="207.94" x2="476.35" y2="231.36" stroke="#333333" stroke-width="1.0"/>
<line x1="476.35" y1="251.18" x2="476.35" y2="267.76" stroke="#333333" stroke-width="1.0"/>
<rect x="471.30" y="231.36" width="10.10" height="19.82" fill="#8C8C8C" stroke="#333333" stroke-width="0.85"/>
<line x1="471.30" y1="243.62" x2="481.40" y2="243.62" stroke="#333333" stroke-width="1.7"/>
<line x1="488.10" y1="217.49" x2="488.10" y2="234.97" stroke="#333333" stroke-width="1.0"/>
<line x1="488.10" y1="249.38" x2="488.10" y2="263.44" stroke="#333333" stroke-width="1.0"/>
<rect x="483.05" y="234.97" width="10.10" height="14.42" fill="#3C84BF" stroke="#333333" stroke-width="0.85"/>
<line x1="483.05" y1="243.08" x2="493.15" y2="243.08" stroke="#333333" stroke-width="1.7"/>
<line x1="499.85" y1="216.95" x2="499.85" y2="232.62" stroke="#333333" stroke-width="1.0"/>
<line x1="499.85" y1="244.88" x2="499.85" y2="261.09" stroke="#333333" stroke-width="1.0"/>
<rect x="494.80" y="232.62" width="10.10" height="12.25" fill="#EF625F" stroke="#333333" stroke-width="0.85"/>
<line x1="494.80" y1="238.03" x2="504.90" y2="238.03" stroke="#333333" stroke-width="1.7"/>
<line x1="511.60" y1="213.34" x2="511.60" y2="228.30" stroke="#333333" stroke-width="1.0"/>
<line x1="511.60" y1="242.18" x2="511.60" y2="254.79" stroke="#333333" stroke-width="1.0"/>
<rect x="506.55" y="228.30" width="10.10" height="13.87" fill="#B91F2E" stroke="#333333" stroke-width="0.85"/>
<line x1="506.55" y1="235.15" x2="516.64" y2="235.15" stroke="#333333" stroke-width="1.7"/>
<line x1="523.35" y1="209.74" x2="523.35" y2="226.50" stroke="#333333" stroke-width="1.0"/>
<line x1="523.35" y1="241.27" x2="523.35" y2="254.79" stroke="#333333" stroke-width="1.0"/>
<rect x="518.30" y="226.50" width="10.10" height="14.78" fill="#E07A2F" stroke="#333333" stroke-width="0.85"/>
<line x1="518.30" y1="234.07" x2="528.39" y2="234.07" stroke="#333333" stroke-width="1.7"/>
<line x1="535.10" y1="208.48" x2="535.10" y2="225.42" stroke="#333333" stroke-width="1.0"/>
<line x1="535.10" y1="242.18" x2="535.10" y2="253.35" stroke="#333333" stroke-width="1.0"/>
<rect x="530.05" y="225.42" width="10.10" height="16.76" fill="#CD8AC1" stroke="#333333" stroke-width="0.85"/>
<line x1="530.05" y1="232.26" x2="540.14" y2="232.26" stroke="#333333" stroke-width="1.7"/>
<line x1="546.85" y1="207.40" x2="546.85" y2="227.40" stroke="#333333" stroke-width="1.0"/>
<line x1="546.85" y1="242.54" x2="546.85" y2="257.49" stroke="#333333" stroke-width="1.0"/>
<rect x="541.80" y="227.40" width="10.10" height="15.14" fill="#3C9A48" stroke="#333333" stroke-width="0.85"/>
<line x1="541.80" y1="235.51" x2="551.89" y2="235.51" stroke="#333333" stroke-width="1.7"/>
<line x1="30.10" y1="182.30" x2="32.30" y2="182.30" stroke="#4D4D4D" stroke-width="0.8"/>
<text x="0" y="0" transform="translate(28.20,186.20) scale(0.97,1.12)" font-size="9.8" text-anchor="end" font-weight="normal" fill="#2E2E2E" >0.5</text>
<line x1="30.10" y1="220.90" x2="32.30" y2="220.90" stroke="#4D4D4D" stroke-width="0.8"/>
<text x="0" y="0" transform="translate(28.20,224.80) scale(0.97,1.12)" font-size="9.8" text-anchor="end" font-weight="normal" fill="#2E2E2E" >0.4</text>
<line x1="30.10" y1="259.50" x2="32.30" y2="259.50" stroke="#4D4D4D" stroke-width="0.8"/>
<text x="0" y="0" transform="translate(28.20,263.40) scale(0.97,1.12)" font-size="9.8" text-anchor="end" font-weight="normal" fill="#2E2E2E" >0.3</text>
<line x1="30.10" y1="298.10" x2="32.30" y2="298.10" stroke="#4D4D4D" stroke-width="0.8"/>
<text x="0" y="0" transform="translate(28.20,302.00) scale(0.97,1.12)" font-size="9.8" text-anchor="end" font-weight="normal" fill="#2E2E2E" >0.2</text>
<rect x="556.20" y="170.90" width="15.10" height="151.90" fill="#D9D9D9"/>
<text x="0" y="0" font-size="9.2" font-weight="bold" fill="#1A1A1A" text-anchor="middle" transform="translate(560.55,246.85) rotate(90)">Trait2</text>
<text x="0" y="0" font-size="11.9" fill="#000" text-anchor="middle" transform="translate(9.30,168.60) rotate(-90)">Prediction accuracy</text>
<rect x="584.20" y="121.10" width="12.40" height="12.80" fill="#F2F2F2"/>
<line x1="590.20" y1="122.20" x2="590.20" y2="132.50" stroke="#333333" stroke-width="0.9"/>
<rect x="585.40" y="124.25" width="9.60" height="6.35" fill="#CB9E2A" stroke="#333333" stroke-width="0.9"/>
<line x1="585.40" y1="127.40" x2="595.00" y2="127.40" stroke="#333333" stroke-width="1.2"/>
<text x="602.40" y="130.70" font-size="9.6" text-anchor="start" font-weight="normal" fill="#1A1A1A" >PRSice-2(C+T)</text>
<rect x="584.20" y="133.94" width="12.40" height="12.80" fill="#F2F2F2"/>
<line x1="590.20" y1="135.04" x2="590.20" y2="145.34" stroke="#333333" stroke-width="0.9"/>
<rect x="585.40" y="137.09" width="9.60" height="6.35" fill="#8C8C8C" stroke="#333333" stroke-width="0.9"/>
<line x1="585.40" y1="140.24" x2="595.00" y2="140.24" stroke="#333333" stroke-width="1.2"/>
<text x="602.40" y="143.54" font-size="9.6" text-anchor="start" font-weight="normal" fill="#1A1A1A" >LDpred2</text>
<rect x="584.20" y="146.78" width="12.40" height="12.80" fill="#F2F2F2"/>
<line x1="590.20" y1="147.88" x2="590.20" y2="158.18" stroke="#333333" stroke-width="0.9"/>
<rect x="585.40" y="149.93" width="9.60" height="6.35" fill="#3C84BF" stroke="#333333" stroke-width="0.9"/>
<line x1="585.40" y1="153.08" x2="595.00" y2="153.08" stroke="#333333" stroke-width="1.2"/>
<text x="602.40" y="156.38" font-size="9.6" text-anchor="start" font-weight="normal" fill="#1A1A1A" >STGBLUP</text>
<rect x="584.20" y="159.62" width="12.40" height="12.80" fill="#F2F2F2"/>
<line x1="590.20" y1="160.72" x2="590.20" y2="171.02" stroke="#333333" stroke-width="0.9"/>
<rect x="585.40" y="162.77" width="9.60" height="6.35" fill="#EF625F" stroke="#333333" stroke-width="0.9"/>
<line x1="585.40" y1="165.92" x2="595.00" y2="165.92" stroke="#333333" stroke-width="1.2"/>
<text x="602.40" y="169.22" font-size="9.6" text-anchor="start" font-weight="normal" fill="#1A1A1A" >wMT-BLUP</text>
<rect x="584.20" y="172.46" width="12.40" height="12.80" fill="#F2F2F2"/>
<line x1="590.20" y1="173.56" x2="590.20" y2="183.86" stroke="#333333" stroke-width="0.9"/>
<rect x="585.40" y="175.61" width="9.60" height="6.35" fill="#B91F2E" stroke="#333333" stroke-width="0.9"/>
<line x1="585.40" y1="178.76" x2="595.00" y2="178.76" stroke="#333333" stroke-width="1.2"/>
<text x="602.40" y="182.06" font-size="9.6" text-anchor="start" font-weight="normal" fill="#1A1A1A" >MTGBLUP</text>
<rect x="584.20" y="185.30" width="12.40" height="12.80" fill="#F2F2F2"/>
<line x1="590.20" y1="186.40" x2="590.20" y2="196.70" stroke="#333333" stroke-width="0.9"/>
<rect x="585.40" y="188.45" width="9.60" height="6.35" fill="#E07A2F" stroke="#333333" stroke-width="0.9"/>
<line x1="585.40" y1="191.60" x2="595.00" y2="191.60" stroke="#333333" stroke-width="1.2"/>
<text x="602.40" y="194.90" font-size="9.6" text-anchor="start" font-weight="normal" fill="#1A1A1A" >LGC-model-1(0.05)</text>
<rect x="584.20" y="198.14" width="12.40" height="12.80" fill="#F2F2F2"/>
<line x1="590.20" y1="199.24" x2="590.20" y2="209.54" stroke="#333333" stroke-width="0.9"/>
<rect x="585.40" y="201.29" width="9.60" height="6.35" fill="#CD8AC1" stroke="#333333" stroke-width="0.9"/>
<line x1="585.40" y1="204.44" x2="595.00" y2="204.44" stroke="#333333" stroke-width="1.2"/>
<text x="602.40" y="207.74" font-size="9.6" text-anchor="start" font-weight="normal" fill="#1A1A1A" >LGC-model-2(0.5)</text>
<rect x="584.20" y="210.98" width="12.40" height="12.80" fill="#F2F2F2"/>
<line x1="590.20" y1="212.08" x2="590.20" y2="222.38" stroke="#333333" stroke-width="0.9"/>
<rect x="585.40" y="214.13" width="9.60" height="6.35" fill="#3C9A48" stroke="#333333" stroke-width="0.9"/>
<line x1="585.40" y1="217.28" x2="595.00" y2="217.28" stroke="#333333" stroke-width="1.2"/>
<text x="602.40" y="220.58" font-size="9.6" text-anchor="start" font-weight="normal" fill="#1A1A1A" >LGC-model-3(0.05)</text>
<rect x="584.20" y="458.70" width="12.40" height="12.80" fill="#F2F2F2"/>
<line x1="590.20" y1="459.80" x2="590.20" y2="470.10" stroke="#333333" stroke-width="0.9"/>
<rect x="585.40" y="461.85" width="9.60" height="6.35" fill="#CB9E2A" stroke="#333333" stroke-width="0.9"/>
<line x1="585.40" y1="465.00" x2="595.00" y2="465.00" stroke="#333333" stroke-width="1.2"/>
<text x="602.40" y="468.30" font-size="9.6" text-anchor="start" font-weight="normal" fill="#1A1A1A" >PRSice-2(C+T)</text>
<rect x="584.20" y="471.54" width="12.40" height="12.80" fill="#F2F2F2"/>
<line x1="590.20" y1="472.64" x2="590.20" y2="482.94" stroke="#333333" stroke-width="0.9"/>
<rect x="585.40" y="474.69" width="9.60" height="6.35" fill="#8C8C8C" stroke="#333333" stroke-width="0.9"/>
<line x1="585.40" y1="477.84" x2="595.00" y2="477.84" stroke="#333333" stroke-width="1.2"/>
<text x="602.40" y="481.14" font-size="9.6" text-anchor="start" font-weight="normal" fill="#1A1A1A" >LDpred2</text>
<rect x="584.20" y="484.38" width="12.40" height="12.80" fill="#F2F2F2"/>
<line x1="590.20" y1="485.48" x2="590.20" y2="495.78" stroke="#333333" stroke-width="0.9"/>
<rect x="585.40" y="487.53" width="9.60" height="6.35" fill="#3C84BF" stroke="#333333" stroke-width="0.9"/>
<line x1="585.40" y1="490.68" x2="595.00" y2="490.68" stroke="#333333" stroke-width="1.2"/>
<text x="602.40" y="493.98" font-size="9.6" text-anchor="start" font-weight="normal" fill="#1A1A1A" >STGBLUP</text>
<rect x="584.20" y="497.22" width="12.40" height="12.80" fill="#F2F2F2"/>
<line x1="590.20" y1="498.32" x2="590.20" y2="508.62" stroke="#333333" stroke-width="0.9"/>
<rect x="585.40" y="500.37" width="9.60" height="6.35" fill="#EF625F" stroke="#333333" stroke-width="0.9"/>
<line x1="585.40" y1="503.52" x2="595.00" y2="503.52" stroke="#333333" stroke-width="1.2"/>
<text x="602.40" y="506.82" font-size="9.6" text-anchor="start" font-weight="normal" fill="#1A1A1A" >wMT-BLUP</text>
<rect x="584.20" y="510.06" width="12.40" height="12.80" fill="#F2F2F2"/>
<line x1="590.20" y1="511.16" x2="590.20" y2="521.46" stroke="#333333" stroke-width="0.9"/>
<rect x="585.40" y="513.21" width="9.60" height="6.35" fill="#B91F2E" stroke="#333333" stroke-width="0.9"/>
<line x1="585.40" y1="516.36" x2="595.00" y2="516.36" stroke="#333333" stroke-width="1.2"/>
<text x="602.40" y="519.66" font-size="9.6" text-anchor="start" font-weight="normal" fill="#1A1A1A" >MTGBLUP</text>
<rect x="584.20" y="522.90" width="12.40" height="12.80" fill="#F2F2F2"/>
<line x1="590.20" y1="524.00" x2="590.20" y2="534.30" stroke="#333333" stroke-width="0.9"/>
<rect x="585.40" y="526.05" width="9.60" height="6.35" fill="#E07A2F" stroke="#333333" stroke-width="0.9"/>
<line x1="585.40" y1="529.20" x2="595.00" y2="529.20" stroke="#333333" stroke-width="1.2"/>
<text x="602.40" y="532.50" font-size="9.6" text-anchor="start" font-weight="normal" fill="#1A1A1A" >LGC-model-1(0.05)</text>
<rect x="584.20" y="535.74" width="12.40" height="12.80" fill="#F2F2F2"/>
<line x1="590.20" y1="536.84" x2="590.20" y2="547.14" stroke="#333333" stroke-width="0.9"/>
<rect x="585.40" y="538.89" width="9.60" height="6.35" fill="#CD8AC1" stroke="#333333" stroke-width="0.9"/>
<line x1="585.40" y1="542.04" x2="595.00" y2="542.04" stroke="#333333" stroke-width="1.2"/>
<text x="602.40" y="545.34" font-size="9.6" text-anchor="start" font-weight="normal" fill="#1A1A1A" >LGC-model-2(0.5)</text>
<rect x="584.20" y="548.58" width="12.40" height="12.80" fill="#F2F2F2"/>
<line x1="590.20" y1="549.68" x2="590.20" y2="559.98" stroke="#333333" stroke-width="0.9"/>
<rect x="585.40" y="551.73" width="9.60" height="6.35" fill="#3C9A48" stroke="#333333" stroke-width="0.9"/>
<line x1="585.40" y1="554.88" x2="595.00" y2="554.88" stroke="#333333" stroke-width="1.2"/>
<text x="602.40" y="558.18" font-size="9.6" text-anchor="start" font-weight="normal" fill="#1A1A1A" >LGC-model-3(0.05)</text>
<rect x="584.20" y="715.50" width="12.40" height="12.80" fill="#F2F2F2"/>
<line x1="590.20" y1="716.60" x2="590.20" y2="726.90" stroke="#333333" stroke-width="0.9"/>
<rect x="585.40" y="718.65" width="9.60" height="6.35" fill="#CB9E2A" stroke="#333333" stroke-width="0.9"/>
<line x1="585.40" y1="721.80" x2="595.00" y2="721.80" stroke="#333333" stroke-width="1.2"/>
<text x="602.40" y="725.10" font-size="9.6" text-anchor="start" font-weight="normal" fill="#1A1A1A" >PRSice-2(C+T)</text>
<rect x="584.20" y="728.34" width="12.40" height="12.80" fill="#F2F2F2"/>
<line x1="590.20" y1="729.44" x2="590.20" y2="739.74" stroke="#333333" stroke-width="0.9"/>
<rect x="585.40" y="731.49" width="9.60" height="6.35" fill="#8C8C8C" stroke="#333333" stroke-width="0.9"/>
<line x1="585.40" y1="734.64" x2="595.00" y2="734.64" stroke="#333333" stroke-width="1.2"/>
<text x="602.40" y="737.94" font-size="9.6" text-anchor="start" font-weight="normal" fill="#1A1A1A" >LDpred2</text>
<rect x="584.20" y="741.18" width="12.40" height="12.80" fill="#F2F2F2"/>
<line x1="590.20" y1="742.28" x2="590.20" y2="752.58" stroke="#333333" stroke-width="0.9"/>
<rect x="585.40" y="744.33" width="9.60" height="6.35" fill="#3C84BF" stroke="#333333" stroke-width="0.9"/>
<line x1="585.40" y1="747.48" x2="595.00" y2="747.48" stroke="#333333" stroke-width="1.2"/>
<text x="602.40" y="750.78" font-size="9.6" text-anchor="start" font-weight="normal" fill="#1A1A1A" >STGBLUP</text>
<rect x="584.20" y="754.02" width="12.40" height="12.80" fill="#F2F2F2"/>
<line x1="590.20" y1="755.12" x2="590.20" y2="765.42" stroke="#333333" stroke-width="0.9"/>
<rect x="585.40" y="757.17" width="9.60" height="6.35" fill="#EF625F" stroke="#333333" stroke-width="0.9"/>
<line x1="585.40" y1="760.32" x2="595.00" y2="760.32" stroke="#333333" stroke-width="1.2"/>
<text x="602.40" y="763.62" font-size="9.6" text-anchor="start" font-weight="normal" fill="#1A1A1A" >wMT-BLUP</text>
<rect x="584.20" y="766.86" width="12.40" height="12.80" fill="#F2F2F2"/>
<line x1="590.20" y1="767.96" x2="590.20" y2="778.26" stroke="#333333" stroke-width="0.9"/>
<rect x="585.40" y="770.01" width="9.60" height="6.35" fill="#B91F2E" stroke="#333333" stroke-width="0.9"/>
<line x1="585.40" y1="773.16" x2="595.00" y2="773.16" stroke="#333333" stroke-width="1.2"/>
<text x="602.40" y="776.46" font-size="9.6" text-anchor="start" font-weight="normal" fill="#1A1A1A" >MTGBLUP</text>
<rect x="584.20" y="779.70" width="12.40" height="12.80" fill="#F2F2F2"/>
<line x1="590.20" y1="780.80" x2="590.20" y2="791.10" stroke="#333333" stroke-width="0.9"/>
<rect x="585.40" y="782.85" width="9.60" height="6.35" fill="#E07A2F" stroke="#333333" stroke-width="0.9"/>
<line x1="585.40" y1="786.00" x2="595.00" y2="786.00" stroke="#333333" stroke-width="1.2"/>
<text x="602.40" y="789.30" font-size="9.6" text-anchor="start" font-weight="normal" fill="#1A1A1A" >LGC-model-1(0.05)</text>
<rect x="584.20" y="792.54" width="12.40" height="12.80" fill="#F2F2F2"/>
<line x1="590.20" y1="793.64" x2="590.20" y2="803.94" stroke="#333333" stroke-width="0.9"/>
<rect x="585.40" y="795.69" width="9.60" height="6.35" fill="#CD8AC1" stroke="#333333" stroke-width="0.9"/>
<line x1="585.40" y1="798.84" x2="595.00" y2="798.84" stroke="#333333" stroke-width="1.2"/>
<text x="602.40" y="802.14" font-size="9.6" text-anchor="start" font-weight="normal" fill="#1A1A1A" >LGC-model-2(0.5)</text>
<rect x="584.20" y="805.38" width="12.40" height="12.80" fill="#F2F2F2"/>
<line x1="590.20" y1="806.48" x2="590.20" y2="816.78" stroke="#333333" stroke-width="0.9"/>
<rect x="585.40" y="808.53" width="9.60" height="6.35" fill="#3C9A48" stroke="#333333" stroke-width="0.9"/>
<line x1="585.40" y1="811.68" x2="595.00" y2="811.68" stroke="#333333" stroke-width="1.2"/>
<text x="602.40" y="814.98" font-size="9.6" text-anchor="start" font-weight="normal" fill="#1A1A1A" >LGC-model-3(0.05)</text>
<text x="2.20" y="358.60" font-size="18" text-anchor="start" font-weight="bold" fill="#000" >b</text>
<rect x="32.10" y="343.60" width="267.90" height="14.80" fill="#D9D9D9"/>
<text x="165.55" y="354.40" font-size="9.5" font-weight="bold" fill="#1A1A1A" text-anchor="middle"><tspan font-style="italic">h</tspan><tspan font-size="6.2" dy="-3.4">2</tspan><tspan dy="3.4">={0.1 0.2}</tspan></text>
<rect x="32.10" y="358.40" width="267.90" height="132.90" fill="#FFFFFF"/>
<rect x="32.60" y="358.90" width="266.90" height="131.90" fill="none" stroke="#D9D9D9" stroke-width="1"/>
<line x1="65.42" y1="428.19" x2="65.42" y2="449.24" stroke="#333333" stroke-width="1.0"/>
<line x1="65.42" y1="471.56" x2="65.42" y2="484.90" stroke="#333333" stroke-width="1.0"/>
<rect x="60.47" y="449.24" width="9.90" height="22.33" fill="#CB9E2A" stroke="#333333" stroke-width="0.85"/>
<line x1="60.47" y1="460.32" x2="70.37" y2="460.32" stroke="#333333" stroke-width="1.7"/>
<line x1="76.80" y1="439.12" x2="76.80" y2="451.48" stroke="#333333" stroke-width="1.0"/>
<line x1="76.80" y1="468.83" x2="76.80" y2="476.06" stroke="#333333" stroke-width="1.0"/>
<rect x="71.85" y="451.48" width="9.90" height="17.35" fill="#8C8C8C" stroke="#333333" stroke-width="0.85"/>
<line x1="71.85" y1="461.93" x2="81.75" y2="461.93" stroke="#333333" stroke-width="1.7"/>
<line x1="88.18" y1="437.83" x2="88.18" y2="451.48" stroke="#333333" stroke-width="1.0"/>
<line x1="88.18" y1="465.94" x2="88.18" y2="481.68" stroke="#333333" stroke-width="1.0"/>
<rect x="83.23" y="451.48" width="9.90" height="14.46" fill="#3C84BF" stroke="#333333" stroke-width="0.85"/>
<line x1="83.23" y1="458.39" x2="93.13" y2="458.39" stroke="#333333" stroke-width="1.7"/>
<line x1="99.56" y1="427.07" x2="99.56" y2="443.45" stroke="#333333" stroke-width="1.0"/>
<line x1="99.56" y1="458.71" x2="99.56" y2="477.99" stroke="#333333" stroke-width="1.0"/>
<rect x="94.61" y="443.45" width="9.90" height="15.26" fill="#EF625F" stroke="#333333" stroke-width="0.85"/>
<line x1="94.61" y1="448.75" x2="104.51" y2="448.75" stroke="#333333" stroke-width="1.7"/>
<line x1="110.94" y1="425.95" x2="110.94" y2="443.94" stroke="#333333" stroke-width="1.0"/>
<line x1="110.94" y1="459.68" x2="110.94" y2="479.59" stroke="#333333" stroke-width="1.0"/>
<rect x="105.99" y="443.94" width="9.90" height="15.74" fill="#B91F2E" stroke="#333333" stroke-width="0.85"/>
<line x1="105.99" y1="449.88" x2="115.89" y2="449.88" stroke="#333333" stroke-width="1.7"/>
<line x1="122.32" y1="423.86" x2="122.32" y2="442.65" stroke="#333333" stroke-width="1.0"/>
<line x1="122.32" y1="460.00" x2="122.32" y2="480.88" stroke="#333333" stroke-width="1.0"/>
<rect x="117.37" y="442.65" width="9.90" height="17.35" fill="#E07A2F" stroke="#333333" stroke-width="0.85"/>
<line x1="117.37" y1="449.56" x2="127.27" y2="449.56" stroke="#333333" stroke-width="1.7"/>
<line x1="133.70" y1="424.66" x2="133.70" y2="440.72" stroke="#333333" stroke-width="1.0"/>
<line x1="133.70" y1="460.32" x2="133.70" y2="482.00" stroke="#333333" stroke-width="1.0"/>
<rect x="128.75" y="440.72" width="9.90" height="19.60" fill="#CD8AC1" stroke="#333333" stroke-width="0.85"/>
<line x1="128.75" y1="449.56" x2="138.65" y2="449.56" stroke="#333333" stroke-width="1.7"/>
<line x1="145.08" y1="427.87" x2="145.08" y2="442.33" stroke="#333333" stroke-width="1.0"/>
<line x1="145.08" y1="458.71" x2="145.08" y2="476.86" stroke="#333333" stroke-width="1.0"/>
<rect x="140.13" y="442.33" width="9.90" height="16.38" fill="#3C9A48" stroke="#333333" stroke-width="0.85"/>
<line x1="140.13" y1="450.84" x2="150.03" y2="450.84" stroke="#333333" stroke-width="1.7"/>
<line x1="105.25" y1="491.30" x2="105.25" y2="493.50" stroke="#4D4D4D" stroke-width="0.8"/>
<text x="105.15" y="501.50" font-size="9.6" text-anchor="middle" font-weight="normal" fill="#2E2E2E" >Trait1</text>
<line x1="186.92" y1="398.16" x2="186.92" y2="428.35" stroke="#333333" stroke-width="1.0"/>
<line x1="186.92" y1="453.25" x2="186.92" y2="472.05" stroke="#333333" stroke-width="1.0"/>
<rect x="181.97" y="428.35" width="9.90" height="24.90" fill="#CB9E2A" stroke="#333333" stroke-width="0.85"/>
<line x1="181.97" y1="440.24" x2="191.87" y2="440.24" stroke="#333333" stroke-width="1.7"/>
<line x1="198.30" y1="416.31" x2="198.30" y2="431.57" stroke="#333333" stroke-width="1.0"/>
<line x1="198.30" y1="451.16" x2="198.30" y2="458.39" stroke="#333333" stroke-width="1.0"/>
<rect x="193.35" y="431.57" width="9.90" height="19.60" fill="#8C8C8C" stroke="#333333" stroke-width="0.85"/>
<line x1="193.35" y1="443.45" x2="203.25" y2="443.45" stroke="#333333" stroke-width="1.7"/>
<line x1="209.68" y1="415.02" x2="209.68" y2="431.09" stroke="#333333" stroke-width="1.0"/>
<line x1="209.68" y1="446.02" x2="209.68" y2="457.59" stroke="#333333" stroke-width="1.0"/>
<rect x="204.73" y="431.09" width="9.90" height="14.94" fill="#3C84BF" stroke="#333333" stroke-width="0.85"/>
<line x1="204.73" y1="440.24" x2="214.63" y2="440.24" stroke="#333333" stroke-width="1.7"/>
<line x1="221.06" y1="419.84" x2="221.06" y2="432.69" stroke="#333333" stroke-width="1.0"/>
<line x1="221.06" y1="446.83" x2="221.06" y2="458.39" stroke="#333333" stroke-width="1.0"/>
<rect x="216.11" y="432.69" width="9.90" height="14.14" fill="#EF625F" stroke="#333333" stroke-width="0.85"/>
<line x1="216.11" y1="440.40" x2="226.01" y2="440.40" stroke="#333333" stroke-width="1.7"/>
<line x1="232.44" y1="415.02" x2="232.44" y2="430.60" stroke="#333333" stroke-width="1.0"/>
<line x1="232.44" y1="446.02" x2="232.44" y2="456.79" stroke="#333333" stroke-width="1.0"/>
<rect x="227.49" y="430.60" width="9.90" height="15.42" fill="#B91F2E" stroke="#333333" stroke-width="0.85"/>
<line x1="227.49" y1="439.60" x2="237.39" y2="439.60" stroke="#333333" stroke-width="1.7"/>
<line x1="243.82" y1="413.90" x2="243.82" y2="429.48" stroke="#333333" stroke-width="1.0"/>
<line x1="243.82" y1="445.54" x2="243.82" y2="459.52" stroke="#333333" stroke-width="1.0"/>
<rect x="238.87" y="429.48" width="9.90" height="16.06" fill="#E07A2F" stroke="#333333" stroke-width="0.85"/>
<line x1="238.87" y1="439.44" x2="248.77" y2="439.44" stroke="#333333" stroke-width="1.7"/>
<line x1="255.20" y1="412.93" x2="255.20" y2="427.87" stroke="#333333" stroke-width="1.0"/>
<line x1="255.20" y1="445.86" x2="255.20" y2="460.32" stroke="#333333" stroke-width="1.0"/>
<rect x="250.25" y="427.87" width="9.90" height="17.99" fill="#CD8AC1" stroke="#333333" stroke-width="0.85"/>
<line x1="250.25" y1="437.83" x2="260.15" y2="437.83" stroke="#333333" stroke-width="1.7"/>
<line x1="266.58" y1="413.90" x2="266.58" y2="429.48" stroke="#333333" stroke-width="1.0"/>
<line x1="266.58" y1="445.54" x2="266.58" y2="457.59" stroke="#333333" stroke-width="1.0"/>
<rect x="261.63" y="429.48" width="9.90" height="16.06" fill="#3C9A48" stroke="#333333" stroke-width="0.85"/>
<line x1="261.63" y1="439.44" x2="271.53" y2="439.44" stroke="#333333" stroke-width="1.7"/>
<line x1="226.75" y1="491.30" x2="226.75" y2="493.50" stroke="#4D4D4D" stroke-width="0.8"/>
<text x="226.65" y="501.50" font-size="9.6" text-anchor="middle" font-weight="normal" fill="#2E2E2E" >Trait2</text>
<rect x="303.50" y="343.60" width="268.00" height="14.80" fill="#D9D9D9"/>
<text x="437.00" y="354.40" font-size="9.5" font-weight="bold" fill="#1A1A1A" text-anchor="middle"><tspan font-style="italic">h</tspan><tspan font-size="6.2" dy="-3.4">2</tspan><tspan dy="3.4">={0.2 0.4}</tspan></text>
<rect x="303.50" y="358.40" width="268.00" height="132.90" fill="#FFFFFF"/>
<rect x="304.00" y="358.90" width="267.00" height="131.90" fill="none" stroke="#D9D9D9" stroke-width="1"/>
<line x1="336.92" y1="410.20" x2="336.92" y2="428.68" stroke="#333333" stroke-width="1.0"/>
<line x1="336.92" y1="451.16" x2="336.92" y2="477.67" stroke="#333333" stroke-width="1.0"/>
<rect x="331.97" y="428.68" width="9.90" height="22.49" fill="#CB9E2A" stroke="#333333" stroke-width="0.85"/>
<line x1="331.97" y1="440.72" x2="341.87" y2="440.72" stroke="#333333" stroke-width="1.7"/>
<line x1="348.30" y1="416.31" x2="348.30" y2="436.39" stroke="#333333" stroke-width="1.0"/>
<line x1="348.30" y1="450.36" x2="348.30" y2="468.03" stroke="#333333" stroke-width="1.0"/>
<rect x="343.35" y="436.39" width="9.90" height="13.97" fill="#8C8C8C" stroke="#333333" stroke-width="0.85"/>
<line x1="343.35" y1="442.01" x2="353.25" y2="442.01" stroke="#333333" stroke-width="1.7"/>
<line x1="359.68" y1="418.56" x2="359.68" y2="430.28" stroke="#333333" stroke-width="1.0"/>
<line x1="359.68" y1="442.65" x2="359.68" y2="461.60" stroke="#333333" stroke-width="1.0"/>
<rect x="354.73" y="430.28" width="9.90" height="12.37" fill="#3C84BF" stroke="#333333" stroke-width="0.85"/>
<line x1="354.73" y1="437.03" x2="364.63" y2="437.03" stroke="#333333" stroke-width="1.7"/>
<line x1="371.06" y1="410.20" x2="371.06" y2="426.59" stroke="#333333" stroke-width="1.0"/>
<line x1="371.06" y1="439.12" x2="371.06" y2="455.98" stroke="#333333" stroke-width="1.0"/>
<rect x="366.11" y="426.59" width="9.90" height="12.53" fill="#EF625F" stroke="#333333" stroke-width="0.85"/>
<line x1="366.11" y1="431.89" x2="376.01" y2="431.89" stroke="#333333" stroke-width="1.7"/>
<circle cx="371.06" cy="461.93" r="1.8" fill="#222"/>
<line x1="382.44" y1="408.60" x2="382.44" y2="421.45" stroke="#333333" stroke-width="1.0"/>
<line x1="382.44" y1="435.10" x2="382.44" y2="452.77" stroke="#333333" stroke-width="1.0"/>
<rect x="377.49" y="421.45" width="9.90" height="13.65" fill="#B91F2E" stroke="#333333" stroke-width="0.85"/>
<line x1="377.49" y1="427.87" x2="387.39" y2="427.87" stroke="#333333" stroke-width="1.7"/>
<circle cx="382.44" cy="461.28" r="1.8" fill="#222"/>
<line x1="393.82" y1="406.99" x2="393.82" y2="421.77" stroke="#333333" stroke-width="1.0"/>
<line x1="393.82" y1="435.58" x2="393.82" y2="453.89" stroke="#333333" stroke-width="1.0"/>
<rect x="388.87" y="421.77" width="9.90" height="13.81" fill="#E07A2F" stroke="#333333" stroke-width="0.85"/>
<line x1="388.87" y1="428.68" x2="398.77" y2="428.68" stroke="#333333" stroke-width="1.7"/>
<circle cx="393.82" cy="459.20" r="1.8" fill="#222"/>
<line x1="405.20" y1="406.99" x2="405.20" y2="419.36" stroke="#333333" stroke-width="1.0"/>
<line x1="405.20" y1="437.19" x2="405.20" y2="459.68" stroke="#333333" stroke-width="1.0"/>
<rect x="400.25" y="419.36" width="9.90" height="17.83" fill="#CD8AC1" stroke="#333333" stroke-width="0.85"/>
<line x1="400.25" y1="428.35" x2="410.15" y2="428.35" stroke="#333333" stroke-width="1.7"/>
<line x1="416.58" y1="406.99" x2="416.58" y2="420.32" stroke="#333333" stroke-width="1.0"/>
<line x1="416.58" y1="432.37" x2="416.58" y2="445.54" stroke="#333333" stroke-width="1.0"/>
<rect x="411.63" y="420.32" width="9.90" height="12.05" fill="#3C9A48" stroke="#333333" stroke-width="0.85"/>
<line x1="411.63" y1="428.68" x2="421.53" y2="428.68" stroke="#333333" stroke-width="1.7"/>
<circle cx="416.58" cy="451.16" r="1.8" fill="#222"/>
<line x1="376.75" y1="491.30" x2="376.75" y2="493.50" stroke="#4D4D4D" stroke-width="0.8"/>
<text x="376.65" y="501.50" font-size="9.6" text-anchor="middle" font-weight="normal" fill="#2E2E2E" >Trait1</text>
<line x1="458.62" y1="391.25" x2="458.62" y2="406.99" stroke="#333333" stroke-width="1.0"/>
<line x1="458.62" y1="425.46" x2="458.62" y2="446.34" stroke="#333333" stroke-width="1.0"/>
<rect x="453.67" y="406.99" width="9.90" height="18.47" fill="#CB9E2A" stroke="#333333" stroke-width="0.85"/>
<line x1="453.67" y1="414.70" x2="463.57" y2="414.70" stroke="#333333" stroke-width="1.7"/>
<line x1="470.00" y1="398.16" x2="470.00" y2="408.60" stroke="#333333" stroke-width="1.0"/>
<line x1="470.00" y1="422.57" x2="470.00" y2="430.60" stroke="#333333" stroke-width="1.0"/>
<rect x="465.05" y="408.60" width="9.90" height="13.97" fill="#8C8C8C" stroke="#333333" stroke-width="0.85"/>
<line x1="465.05" y1="416.63" x2="474.95" y2="416.63" stroke="#333333" stroke-width="1.7"/>
<line x1="481.38" y1="391.25" x2="481.38" y2="406.19" stroke="#333333" stroke-width="1.0"/>
<line x1="481.38" y1="421.13" x2="481.38" y2="435.90" stroke="#333333" stroke-width="1.0"/>
<rect x="476.43" y="406.19" width="9.90" height="14.94" fill="#3C84BF" stroke="#333333" stroke-width="0.85"/>
<line x1="476.43" y1="414.22" x2="486.33" y2="414.22" stroke="#333333" stroke-width="1.7"/>
<line x1="492.76" y1="397.03" x2="492.76" y2="411.49" stroke="#333333" stroke-width="1.0"/>
<line x1="492.76" y1="427.39" x2="492.76" y2="437.51" stroke="#333333" stroke-width="1.0"/>
<rect x="487.81" y="411.49" width="9.90" height="15.90" fill="#EF625F" stroke="#333333" stroke-width="0.85"/>
<line x1="487.81" y1="419.84" x2="497.71" y2="419.84" stroke="#333333" stroke-width="1.7"/>
<line x1="504.14" y1="390.93" x2="504.14" y2="405.87" stroke="#333333" stroke-width="1.0"/>
<line x1="504.14" y1="420.16" x2="504.14" y2="434.78" stroke="#333333" stroke-width="1.0"/>
<rect x="499.19" y="405.87" width="9.90" height="14.30" fill="#B91F2E" stroke="#333333" stroke-width="0.85"/>
<line x1="499.19" y1="413.42" x2="509.09" y2="413.42" stroke="#333333" stroke-width="1.7"/>
<line x1="515.52" y1="390.13" x2="515.52" y2="405.06" stroke="#333333" stroke-width="1.0"/>
<line x1="515.52" y1="419.84" x2="515.52" y2="433.82" stroke="#333333" stroke-width="1.0"/>
<rect x="510.57" y="405.06" width="9.90" height="14.78" fill="#E07A2F" stroke="#333333" stroke-width="0.85"/>
<line x1="510.57" y1="412.61" x2="520.47" y2="412.61" stroke="#333333" stroke-width="1.7"/>
<line x1="526.90" y1="390.13" x2="526.90" y2="404.10" stroke="#333333" stroke-width="1.0"/>
<line x1="526.90" y1="419.52" x2="526.90" y2="439.92" stroke="#333333" stroke-width="1.0"/>
<rect x="521.95" y="404.10" width="9.90" height="15.42" fill="#CD8AC1" stroke="#333333" stroke-width="0.85"/>
<line x1="521.95" y1="412.29" x2="531.85" y2="412.29" stroke="#333333" stroke-width="1.7"/>
<line x1="538.28" y1="389.64" x2="538.28" y2="405.38" stroke="#333333" stroke-width="1.0"/>
<line x1="538.28" y1="419.52" x2="538.28" y2="434.30" stroke="#333333" stroke-width="1.0"/>
<rect x="533.33" y="405.38" width="9.90" height="14.14" fill="#3C9A48" stroke="#333333" stroke-width="0.85"/>
<line x1="533.33" y1="413.42" x2="543.23" y2="413.42" stroke="#333333" stroke-width="1.7"/>
<line x1="498.45" y1="491.30" x2="498.45" y2="493.50" stroke="#4D4D4D" stroke-width="0.8"/>
<text x="498.35" y="501.50" font-size="9.6" text-anchor="middle" font-weight="normal" fill="#2E2E2E" >Trait2</text>
<line x1="29.90" y1="365.50" x2="32.10" y2="365.50" stroke="#4D4D4D" stroke-width="0.8"/>
<text x="0" y="0" transform="translate(28.00,369.40) scale(0.97,1.12)" font-size="9.8" text-anchor="end" font-weight="normal" fill="#2E2E2E" >0.5</text>
<line x1="29.90" y1="392.72" x2="32.10" y2="392.72" stroke="#4D4D4D" stroke-width="0.8"/>
<text x="0" y="0" transform="translate(28.00,396.62) scale(0.97,1.12)" font-size="9.8" text-anchor="end" font-weight="normal" fill="#2E2E2E" >0.4</text>
<line x1="29.90" y1="419.94" x2="32.10" y2="419.94" stroke="#4D4D4D" stroke-width="0.8"/>
<text x="0" y="0" transform="translate(28.00,423.84) scale(0.97,1.12)" font-size="9.8" text-anchor="end" font-weight="normal" fill="#2E2E2E" >0.3</text>
<line x1="29.90" y1="447.16" x2="32.10" y2="447.16" stroke="#4D4D4D" stroke-width="0.8"/>
<text x="0" y="0" transform="translate(28.00,451.06) scale(0.97,1.12)" font-size="9.8" text-anchor="end" font-weight="normal" fill="#2E2E2E" >0.2</text>
<line x1="29.90" y1="474.38" x2="32.10" y2="474.38" stroke="#4D4D4D" stroke-width="0.8"/>
<text x="0" y="0" transform="translate(28.00,478.28) scale(0.97,1.12)" font-size="9.8" text-anchor="end" font-weight="normal" fill="#2E2E2E" >0.1</text>
<rect x="32.10" y="507.70" width="267.90" height="14.80" fill="#D9D9D9"/>
<text x="165.55" y="518.50" font-size="9.5" font-weight="bold" fill="#1A1A1A" text-anchor="middle"><tspan font-style="italic">h</tspan><tspan font-size="6.2" dy="-3.4">2</tspan><tspan dy="3.4">={0.5 0.5}</tspan></text>
<rect x="32.10" y="522.50" width="267.90" height="133.00" fill="#FFFFFF"/>
<rect x="32.60" y="523.00" width="266.90" height="132.00" fill="none" stroke="#D9D9D9" stroke-width="1"/>
<line x1="65.42" y1="548.02" x2="65.42" y2="562.48" stroke="#333333" stroke-width="1.0"/>
<line x1="65.42" y1="580.31" x2="65.42" y2="591.07" stroke="#333333" stroke-width="1.0"/>
<rect x="60.47" y="562.48" width="9.90" height="17.83" fill="#CB9E2A" stroke="#333333" stroke-width="0.85"/>
<line x1="60.47" y1="570.67" x2="70.37" y2="570.67" stroke="#333333" stroke-width="1.7"/>
<line x1="76.80" y1="553.00" x2="76.80" y2="564.08" stroke="#333333" stroke-width="1.0"/>
<line x1="76.80" y1="579.02" x2="76.80" y2="594.76" stroke="#333333" stroke-width="1.0"/>
<rect x="71.85" y="564.08" width="9.90" height="14.94" fill="#8C8C8C" stroke="#333333" stroke-width="0.85"/>
<line x1="71.85" y1="570.99" x2="81.75" y2="570.99" stroke="#333333" stroke-width="1.7"/>
<circle cx="76.80" cy="540.95" r="1.8" fill="#222"/>
<line x1="88.18" y1="556.53" x2="88.18" y2="566.49" stroke="#333333" stroke-width="1.0"/>
<line x1="88.18" y1="576.13" x2="88.18" y2="583.52" stroke="#333333" stroke-width="1.0"/>
<rect x="83.23" y="566.49" width="9.90" height="9.64" fill="#3C84BF" stroke="#333333" stroke-width="0.85"/>
<line x1="83.23" y1="570.99" x2="93.13" y2="570.99" stroke="#333333" stroke-width="1.7"/>
<line x1="99.56" y1="558.14" x2="99.56" y2="569.38" stroke="#333333" stroke-width="1.0"/>
<line x1="99.56" y1="577.74" x2="99.56" y2="591.07" stroke="#333333" stroke-width="1.0"/>
<rect x="94.61" y="569.38" width="9.90" height="8.35" fill="#EF625F" stroke="#333333" stroke-width="0.85"/>
<line x1="94.61" y1="572.92" x2="104.51" y2="572.92" stroke="#333333" stroke-width="1.7"/>
<circle cx="99.56" cy="591.87" r="1.8" fill="#222"/>
<circle cx="99.56" cy="595.89" r="1.8" fill="#222"/>
<line x1="110.94" y1="554.61" x2="110.94" y2="565.05" stroke="#333333" stroke-width="1.0"/>
<line x1="110.94" y1="572.92" x2="110.94" y2="581.75" stroke="#333333" stroke-width="1.0"/>
<rect x="105.99" y="565.05" width="9.90" height="7.87" fill="#B91F2E" stroke="#333333" stroke-width="0.85"/>
<line x1="105.99" y1="569.38" x2="115.89" y2="569.38" stroke="#333333" stroke-width="1.7"/>
<line x1="122.32" y1="552.84" x2="122.32" y2="563.44" stroke="#333333" stroke-width="1.0"/>
<line x1="122.32" y1="571.31" x2="122.32" y2="581.43" stroke="#333333" stroke-width="1.0"/>
<rect x="117.37" y="563.44" width="9.90" height="7.87" fill="#E07A2F" stroke="#333333" stroke-width="0.85"/>
<line x1="117.37" y1="567.30" x2="127.27" y2="567.30" stroke="#333333" stroke-width="1.7"/>
<line x1="133.70" y1="551.39" x2="133.70" y2="561.67" stroke="#333333" stroke-width="1.0"/>
<line x1="133.70" y1="569.38" x2="133.70" y2="579.83" stroke="#333333" stroke-width="1.0"/>
<rect x="128.75" y="561.67" width="9.90" height="7.71" fill="#CD8AC1" stroke="#333333" stroke-width="0.85"/>
<line x1="128.75" y1="565.37" x2="138.65" y2="565.37" stroke="#333333" stroke-width="1.7"/>
<circle cx="133.70" cy="581.75" r="1.8" fill="#222"/>
<circle cx="133.70" cy="583.04" r="1.8" fill="#222"/>
<line x1="145.08" y1="553.32" x2="145.08" y2="564.08" stroke="#333333" stroke-width="1.0"/>
<line x1="145.08" y1="573.40" x2="145.08" y2="581.11" stroke="#333333" stroke-width="1.0"/>
<rect x="140.13" y="564.08" width="9.90" height="9.32" fill="#3C9A48" stroke="#333333" stroke-width="0.85"/>
<line x1="140.13" y1="568.58" x2="150.03" y2="568.58" stroke="#333333" stroke-width="1.7"/>
<line x1="105.25" y1="655.50" x2="105.25" y2="657.70" stroke="#4D4D4D" stroke-width="0.8"/>
<text x="105.15" y="665.70" font-size="9.6" text-anchor="middle" font-weight="normal" fill="#2E2E2E" >Trait1</text>
<line x1="186.92" y1="545.29" x2="186.92" y2="562.64" stroke="#333333" stroke-width="1.0"/>
<line x1="186.92" y1="578.54" x2="186.92" y2="593.48" stroke="#333333" stroke-width="1.0"/>
<rect x="181.97" y="562.64" width="9.90" height="15.90" fill="#CB9E2A" stroke="#333333" stroke-width="0.85"/>
<line x1="181.97" y1="569.71" x2="191.87" y2="569.71" stroke="#333333" stroke-width="1.7"/>
<line x1="198.30" y1="549.31" x2="198.30" y2="564.57" stroke="#333333" stroke-width="1.0"/>
<line x1="198.30" y1="577.42" x2="198.30" y2="591.87" stroke="#333333" stroke-width="1.0"/>
<rect x="193.35" y="564.57" width="9.90" height="12.85" fill="#8C8C8C" stroke="#333333" stroke-width="0.85"/>
<line x1="193.35" y1="571.47" x2="203.25" y2="571.47" stroke="#333333" stroke-width="1.7"/>
<line x1="209.68" y1="549.31" x2="209.68" y2="565.37" stroke="#333333" stroke-width="1.0"/>
<line x1="209.68" y1="576.93" x2="209.68" y2="590.27" stroke="#333333" stroke-width="1.0"/>
<rect x="204.73" y="565.37" width="9.90" height="11.57" fill="#3C84BF" stroke="#333333" stroke-width="0.85"/>
<line x1="204.73" y1="571.47" x2="214.63" y2="571.47" stroke="#333333" stroke-width="1.7"/>
<line x1="221.06" y1="553.64" x2="221.06" y2="568.10" stroke="#333333" stroke-width="1.0"/>
<line x1="221.06" y1="580.31" x2="221.06" y2="595.09" stroke="#333333" stroke-width="1.0"/>
<rect x="216.11" y="568.10" width="9.90" height="12.21" fill="#EF625F" stroke="#333333" stroke-width="0.85"/>
<line x1="216.11" y1="572.92" x2="226.01" y2="572.92" stroke="#333333" stroke-width="1.7"/>
<line x1="232.44" y1="554.13" x2="232.44" y2="563.44" stroke="#333333" stroke-width="1.0"/>
<line x1="232.44" y1="573.40" x2="232.44" y2="586.73" stroke="#333333" stroke-width="1.0"/>
<rect x="227.49" y="563.44" width="9.90" height="9.96" fill="#B91F2E" stroke="#333333" stroke-width="0.85"/>
<line x1="227.49" y1="568.26" x2="237.39" y2="568.26" stroke="#333333" stroke-width="1.7"/>
<circle cx="232.44" cy="548.02" r="1.8" fill="#222"/>
<line x1="243.82" y1="547.70" x2="243.82" y2="562.96" stroke="#333333" stroke-width="1.0"/>
<line x1="243.82" y1="573.08" x2="243.82" y2="586.73" stroke="#333333" stroke-width="1.0"/>
<rect x="238.87" y="562.96" width="9.90" height="10.12" fill="#E07A2F" stroke="#333333" stroke-width="0.85"/>
<line x1="238.87" y1="567.30" x2="248.77" y2="567.30" stroke="#333333" stroke-width="1.7"/>
<line x1="255.20" y1="546.58" x2="255.20" y2="560.55" stroke="#333333" stroke-width="1.0"/>
<line x1="255.20" y1="572.12" x2="255.20" y2="585.93" stroke="#333333" stroke-width="1.0"/>
<rect x="250.25" y="560.55" width="9.90" height="11.57" fill="#CD8AC1" stroke="#333333" stroke-width="0.85"/>
<line x1="250.25" y1="565.69" x2="260.15" y2="565.69" stroke="#333333" stroke-width="1.7"/>
<line x1="266.58" y1="548.18" x2="266.58" y2="562.48" stroke="#333333" stroke-width="1.0"/>
<line x1="266.58" y1="574.20" x2="266.58" y2="588.66" stroke="#333333" stroke-width="1.0"/>
<rect x="261.63" y="562.48" width="9.90" height="11.73" fill="#3C9A48" stroke="#333333" stroke-width="0.85"/>
<line x1="261.63" y1="568.58" x2="271.53" y2="568.58" stroke="#333333" stroke-width="1.7"/>
<line x1="226.75" y1="655.50" x2="226.75" y2="657.70" stroke="#4D4D4D" stroke-width="0.8"/>
<text x="226.65" y="665.70" font-size="9.6" text-anchor="middle" font-weight="normal" fill="#2E2E2E" >Trait2</text>
<rect x="303.50" y="507.70" width="268.00" height="14.80" fill="#D9D9D9"/>
<text x="437.00" y="518.50" font-size="9.5" font-weight="bold" fill="#1A1A1A" text-anchor="middle"><tspan font-style="italic">h</tspan><tspan font-size="6.2" dy="-3.4">2</tspan><tspan dy="3.4">={0.2 0.8}</tspan></text>
<rect x="303.50" y="522.50" width="268.00" height="133.00" fill="#FFFFFF"/>
<rect x="304.00" y="523.00" width="267.00" height="132.00" fill="none" stroke="#D9D9D9" stroke-width="1"/>
<line x1="336.92" y1="576.13" x2="336.92" y2="593.16" stroke="#333333" stroke-width="1.0"/>
<line x1="336.92" y1="614.68" x2="336.92" y2="634.76" stroke="#333333" stroke-width="1.0"/>
<rect x="331.97" y="593.16" width="9.90" height="21.52" fill="#CB9E2A" stroke="#333333" stroke-width="0.85"/>
<line x1="331.97" y1="604.40" x2="341.87" y2="604.40" stroke="#333333" stroke-width="1.7"/>
<line x1="348.30" y1="582.24" x2="348.30" y2="595.41" stroke="#333333" stroke-width="1.0"/>
<line x1="348.30" y1="611.63" x2="348.30" y2="630.91" stroke="#333333" stroke-width="1.0"/>
<rect x="343.35" y="595.41" width="9.90" height="16.22" fill="#8C8C8C" stroke="#333333" stroke-width="0.85"/>
<line x1="343.35" y1="604.72" x2="353.25" y2="604.72" stroke="#333333" stroke-width="1.7"/>
<line x1="359.68" y1="584.16" x2="359.68" y2="596.21" stroke="#333333" stroke-width="1.0"/>
<line x1="359.68" y1="607.13" x2="359.68" y2="618.70" stroke="#333333" stroke-width="1.0"/>
<rect x="354.73" y="596.21" width="9.90" height="10.92" fill="#3C84BF" stroke="#333333" stroke-width="0.85"/>
<line x1="354.73" y1="602.31" x2="364.63" y2="602.31" stroke="#333333" stroke-width="1.7"/>
<line x1="371.06" y1="563.28" x2="371.06" y2="577.42" stroke="#333333" stroke-width="1.0"/>
<line x1="371.06" y1="589.46" x2="371.06" y2="602.63" stroke="#333333" stroke-width="1.0"/>
<rect x="366.11" y="577.42" width="9.90" height="12.05" fill="#EF625F" stroke="#333333" stroke-width="0.85"/>
<line x1="366.11" y1="581.43" x2="376.01" y2="581.43" stroke="#333333" stroke-width="1.7"/>
<circle cx="371.06" cy="608.74" r="1.8" fill="#222"/>
<circle cx="371.06" cy="616.45" r="1.8" fill="#222"/>
<line x1="382.44" y1="562.64" x2="382.44" y2="575.33" stroke="#333333" stroke-width="1.0"/>
<line x1="382.44" y1="588.34" x2="382.44" y2="602.63" stroke="#333333" stroke-width="1.0"/>
<rect x="377.49" y="575.33" width="9.90" height="13.01" fill="#B91F2E" stroke="#333333" stroke-width="0.85"/>
<line x1="377.49" y1="580.31" x2="387.39" y2="580.31" stroke="#333333" stroke-width="1.7"/>
<line x1="393.82" y1="562.16" x2="393.82" y2="575.49" stroke="#333333" stroke-width="1.0"/>
<line x1="393.82" y1="586.73" x2="393.82" y2="597.49" stroke="#333333" stroke-width="1.0"/>
<rect x="388.87" y="575.49" width="9.90" height="11.24" fill="#E07A2F" stroke="#333333" stroke-width="0.85"/>
<line x1="388.87" y1="579.34" x2="398.77" y2="579.34" stroke="#333333" stroke-width="1.7"/>
<circle cx="393.82" cy="605.20" r="1.8" fill="#222"/>
<circle cx="393.82" cy="607.13" r="1.8" fill="#222"/>
<line x1="405.20" y1="558.94" x2="405.20" y2="573.08" stroke="#333333" stroke-width="1.0"/>
<line x1="405.20" y1="587.38" x2="405.20" y2="605.04" stroke="#333333" stroke-width="1.0"/>
<rect x="400.25" y="573.08" width="9.90" height="14.30" fill="#CD8AC1" stroke="#333333" stroke-width="0.85"/>
<line x1="400.25" y1="579.34" x2="410.15" y2="579.34" stroke="#333333" stroke-width="1.7"/>
<circle cx="405.20" cy="611.47" r="1.8" fill="#222"/>
<line x1="416.58" y1="559.75" x2="416.58" y2="573.40" stroke="#333333" stroke-width="1.0"/>
<line x1="416.58" y1="585.13" x2="416.58" y2="599.10" stroke="#333333" stroke-width="1.0"/>
<rect x="411.63" y="573.40" width="9.90" height="11.73" fill="#3C9A48" stroke="#333333" stroke-width="0.85"/>
<line x1="411.63" y1="580.31" x2="421.53" y2="580.31" stroke="#333333" stroke-width="1.7"/>
<line x1="376.75" y1="655.50" x2="376.75" y2="657.70" stroke="#4D4D4D" stroke-width="0.8"/>
<text x="376.65" y="665.70" font-size="9.6" text-anchor="middle" font-weight="normal" fill="#2E2E2E" >Trait1</text>
<line x1="458.62" y1="535.65" x2="458.62" y2="546.42" stroke="#333333" stroke-width="1.0"/>
<line x1="458.62" y1="554.93" x2="458.62" y2="565.05" stroke="#333333" stroke-width="1.0"/>
<rect x="453.67" y="546.42" width="9.90" height="8.51" fill="#CB9E2A" stroke="#333333" stroke-width="0.85"/>
<line x1="453.67" y1="552.20" x2="463.57" y2="552.20" stroke="#333333" stroke-width="1.7"/>
<circle cx="458.62" cy="530.03" r="1.8" fill="#222"/>
<line x1="470.00" y1="528.75" x2="470.00" y2="540.47" stroke="#333333" stroke-width="1.0"/>
<line x1="470.00" y1="554.45" x2="470.00" y2="566.65" stroke="#333333" stroke-width="1.0"/>
<rect x="465.05" y="540.47" width="9.90" height="13.97" fill="#8C8C8C" stroke="#333333" stroke-width="0.85"/>
<line x1="465.05" y1="550.11" x2="474.95" y2="550.11" stroke="#333333" stroke-width="1.7"/>
<line x1="481.38" y1="537.58" x2="481.38" y2="545.61" stroke="#333333" stroke-width="1.0"/>
<line x1="481.38" y1="552.20" x2="481.38" y2="558.62" stroke="#333333" stroke-width="1.0"/>
<rect x="476.43" y="545.61" width="9.90" height="6.59" fill="#3C84BF" stroke="#333333" stroke-width="0.85"/>
<line x1="476.43" y1="548.99" x2="486.33" y2="548.99" stroke="#333333" stroke-width="1.7"/>
<circle cx="481.38" cy="534.85" r="1.8" fill="#222"/>
<line x1="492.76" y1="541.28" x2="492.76" y2="550.91" stroke="#333333" stroke-width="1.0"/>
<line x1="492.76" y1="558.62" x2="492.76" y2="568.58" stroke="#333333" stroke-width="1.0"/>
<rect x="487.81" y="550.91" width="9.90" height="7.71" fill="#EF625F" stroke="#333333" stroke-width="0.85"/>
<line x1="487.81" y1="554.61" x2="497.71" y2="554.61" stroke="#333333" stroke-width="1.7"/>
<circle cx="492.76" cy="537.74" r="1.8" fill="#222"/>
<circle cx="492.76" cy="575.01" r="1.8" fill="#222"/>
<line x1="504.14" y1="537.58" x2="504.14" y2="545.61" stroke="#333333" stroke-width="1.0"/>
<line x1="504.14" y1="552.52" x2="504.14" y2="558.62" stroke="#333333" stroke-width="1.0"/>
<rect x="499.19" y="545.61" width="9.90" height="6.91" fill="#B91F2E" stroke="#333333" stroke-width="0.85"/>
<line x1="499.19" y1="548.50" x2="509.09" y2="548.50" stroke="#333333" stroke-width="1.7"/>
<circle cx="504.14" cy="534.85" r="1.8" fill="#222"/>
<line x1="515.52" y1="537.26" x2="515.52" y2="545.29" stroke="#333333" stroke-width="1.0"/>
<line x1="515.52" y1="551.72" x2="515.52" y2="558.62" stroke="#333333" stroke-width="1.0"/>
<rect x="510.57" y="545.29" width="9.90" height="6.43" fill="#E07A2F" stroke="#333333" stroke-width="0.85"/>
<line x1="510.57" y1="548.18" x2="520.47" y2="548.18" stroke="#333333" stroke-width="1.7"/>
<circle cx="515.52" cy="534.37" r="1.8" fill="#222"/>
<line x1="526.90" y1="534.05" x2="526.90" y2="544.49" stroke="#333333" stroke-width="1.0"/>
<line x1="526.90" y1="551.39" x2="526.90" y2="557.66" stroke="#333333" stroke-width="1.0"/>
<rect x="521.95" y="544.49" width="9.90" height="6.91" fill="#CD8AC1" stroke="#333333" stroke-width="0.85"/>
<line x1="521.95" y1="547.70" x2="531.85" y2="547.70" stroke="#333333" stroke-width="1.7"/>
<line x1="538.28" y1="537.58" x2="538.28" y2="546.09" stroke="#333333" stroke-width="1.0"/>
<line x1="538.28" y1="552.52" x2="538.28" y2="559.75" stroke="#333333" stroke-width="1.0"/>
<rect x="533.33" y="546.09" width="9.90" height="6.43" fill="#3C9A48" stroke="#333333" stroke-width="0.85"/>
<line x1="533.33" y1="549.31" x2="543.23" y2="549.31" stroke="#333333" stroke-width="1.7"/>
<circle cx="538.28" cy="534.53" r="1.8" fill="#222"/>
<line x1="498.45" y1="655.50" x2="498.45" y2="657.70" stroke="#4D4D4D" stroke-width="0.8"/>
<text x="498.35" y="665.70" font-size="9.6" text-anchor="middle" font-weight="normal" fill="#2E2E2E" >Trait2</text>
<line x1="29.90" y1="529.60" x2="32.10" y2="529.60" stroke="#4D4D4D" stroke-width="0.8"/>
<text x="0" y="0" transform="translate(28.00,533.50) scale(0.97,1.12)" font-size="9.8" text-anchor="end" font-weight="normal" fill="#2E2E2E" >0.5</text>
<line x1="29.90" y1="556.82" x2="32.10" y2="556.82" stroke="#4D4D4D" stroke-width="0.8"/>
<text x="0" y="0" transform="translate(28.00,560.72) scale(0.97,1.12)" font-size="9.8" text-anchor="end" font-weight="normal" fill="#2E2E2E" >0.4</text>
<line x1="29.90" y1="584.04" x2="32.10" y2="584.04" stroke="#4D4D4D" stroke-width="0.8"/>
<text x="0" y="0" transform="translate(28.00,587.94) scale(0.97,1.12)" font-size="9.8" text-anchor="end" font-weight="normal" fill="#2E2E2E" >0.3</text>
<line x1="29.90" y1="611.26" x2="32.10" y2="611.26" stroke="#4D4D4D" stroke-width="0.8"/>
<text x="0" y="0" transform="translate(28.00,615.16) scale(0.97,1.12)" font-size="9.8" text-anchor="end" font-weight="normal" fill="#2E2E2E" >0.2</text>
<line x1="29.90" y1="638.48" x2="32.10" y2="638.48" stroke="#4D4D4D" stroke-width="0.8"/>
<text x="0" y="0" transform="translate(28.00,642.38) scale(0.97,1.12)" font-size="9.8" text-anchor="end" font-weight="normal" fill="#2E2E2E" >0.1</text>
<text x="0" y="0" font-size="11.9" fill="#000" text-anchor="middle" transform="translate(9.30,506.35) rotate(-90)">Prediction accuracy</text>
<text x="2.00" y="700.80" font-size="18" text-anchor="start" font-weight="bold" fill="#000" >c</text>
<rect x="37.20" y="686.00" width="264.90" height="15.70" fill="#D9D9D9"/>
<text x="169.15" y="697.70" font-size="9.5" font-weight="bold" fill="#1A1A1A" text-anchor="middle"><tspan font-style="italic">h</tspan><tspan font-size="6.2" dy="-3.4">2</tspan><tspan dy="3.4">={0.5 0.5}</tspan></text>
<rect x="37.20" y="701.70" width="264.90" height="125.30" fill="#FFFFFF"/>
<rect x="37.70" y="702.20" width="263.90" height="124.30" fill="none" stroke="#D9D9D9" stroke-width="1"/>
<line x1="69.64" y1="763.34" x2="69.64" y2="770.09" stroke="#333333" stroke-width="1.0"/>
<line x1="69.64" y1="775.71" x2="69.64" y2="782.62" stroke="#333333" stroke-width="1.0"/>
<rect x="64.74" y="770.09" width="9.80" height="5.62" fill="#CB9E2A" stroke="#333333" stroke-width="0.85"/>
<line x1="64.74" y1="772.82" x2="74.55" y2="772.82" stroke="#333333" stroke-width="1.7"/>
<circle cx="69.64" cy="788.89" r="1.8" fill="#222"/>
<line x1="80.97" y1="757.23" x2="80.97" y2="770.57" stroke="#333333" stroke-width="1.0"/>
<line x1="80.97" y1="780.21" x2="80.97" y2="790.17" stroke="#333333" stroke-width="1.0"/>
<rect x="76.07" y="770.57" width="9.80" height="9.64" fill="#8C8C8C" stroke="#333333" stroke-width="0.85"/>
<line x1="76.07" y1="774.10" x2="85.88" y2="774.10" stroke="#333333" stroke-width="1.7"/>
<line x1="92.30" y1="755.31" x2="92.30" y2="768.48" stroke="#333333" stroke-width="1.0"/>
<line x1="92.30" y1="778.60" x2="92.30" y2="790.65" stroke="#333333" stroke-width="1.0"/>
<rect x="87.40" y="768.48" width="9.80" height="10.12" fill="#3C84BF" stroke="#333333" stroke-width="0.85"/>
<line x1="87.40" y1="773.78" x2="97.20" y2="773.78" stroke="#333333" stroke-width="1.7"/>
<line x1="103.63" y1="755.95" x2="103.63" y2="768.80" stroke="#333333" stroke-width="1.0"/>
<line x1="103.63" y1="780.53" x2="103.63" y2="791.30" stroke="#333333" stroke-width="1.0"/>
<rect x="98.73" y="768.80" width="9.80" height="11.73" fill="#EF625F" stroke="#333333" stroke-width="0.85"/>
<line x1="98.73" y1="774.10" x2="108.53" y2="774.10" stroke="#333333" stroke-width="1.7"/>
<line x1="114.97" y1="754.34" x2="114.97" y2="767.20" stroke="#333333" stroke-width="1.0"/>
<line x1="114.97" y1="778.60" x2="114.97" y2="789.37" stroke="#333333" stroke-width="1.0"/>
<rect x="110.06" y="767.20" width="9.80" height="11.41" fill="#B91F2E" stroke="#333333" stroke-width="0.85"/>
<line x1="110.06" y1="772.82" x2="119.87" y2="772.82" stroke="#333333" stroke-width="1.7"/>
<line x1="126.30" y1="716.26" x2="126.30" y2="722.37" stroke="#333333" stroke-width="1.0"/>
<line x1="126.30" y1="730.40" x2="126.30" y2="741.49" stroke="#333333" stroke-width="1.0"/>
<rect x="121.39" y="722.37" width="9.80" height="8.03" fill="#E07A2F" stroke="#333333" stroke-width="0.85"/>
<line x1="121.39" y1="726.39" x2="131.19" y2="726.39" stroke="#333333" stroke-width="1.7"/>
<line x1="137.62" y1="725.42" x2="137.62" y2="737.15" stroke="#333333" stroke-width="1.0"/>
<line x1="137.62" y1="755.63" x2="137.62" y2="776.03" stroke="#333333" stroke-width="1.0"/>
<rect x="132.72" y="737.15" width="9.80" height="18.48" fill="#CD8AC1" stroke="#333333" stroke-width="0.85"/>
<line x1="132.72" y1="743.10" x2="142.53" y2="743.10" stroke="#333333" stroke-width="1.7"/>
<line x1="148.95" y1="747.27" x2="148.95" y2="760.77" stroke="#333333" stroke-width="1.0"/>
<line x1="148.95" y1="771.69" x2="148.95" y2="782.62" stroke="#333333" stroke-width="1.0"/>
<rect x="144.05" y="760.77" width="9.80" height="10.93" fill="#3C9A48" stroke="#333333" stroke-width="0.85"/>
<line x1="144.05" y1="766.55" x2="153.85" y2="766.55" stroke="#333333" stroke-width="1.7"/>
<line x1="109.30" y1="827.00" x2="109.30" y2="829.20" stroke="#4D4D4D" stroke-width="0.8"/>
<text x="109.20" y="836.60" font-size="9.6" text-anchor="middle" font-weight="normal" fill="#2E2E2E" >Trait1</text>
<line x1="190.34" y1="762.86" x2="190.34" y2="768.80" stroke="#333333" stroke-width="1.0"/>
<line x1="190.34" y1="776.51" x2="190.34" y2="786.64" stroke="#333333" stroke-width="1.0"/>
<rect x="185.44" y="768.80" width="9.80" height="7.71" fill="#CB9E2A" stroke="#333333" stroke-width="0.85"/>
<line x1="185.44" y1="771.37" x2="195.25" y2="771.37" stroke="#333333" stroke-width="1.7"/>
<line x1="201.68" y1="759.97" x2="201.68" y2="770.89" stroke="#333333" stroke-width="1.0"/>
<line x1="201.68" y1="779.25" x2="201.68" y2="784.87" stroke="#333333" stroke-width="1.0"/>
<rect x="196.78" y="770.89" width="9.80" height="8.35" fill="#8C8C8C" stroke="#333333" stroke-width="0.85"/>
<line x1="196.78" y1="775.39" x2="206.58" y2="775.39" stroke="#333333" stroke-width="1.7"/>
<circle cx="201.68" cy="792.26" r="1.8" fill="#222"/>
<line x1="213.00" y1="757.56" x2="213.00" y2="769.77" stroke="#333333" stroke-width="1.0"/>
<line x1="213.00" y1="778.12" x2="213.00" y2="789.37" stroke="#333333" stroke-width="1.0"/>
<rect x="208.10" y="769.77" width="9.80" height="8.35" fill="#3C84BF" stroke="#333333" stroke-width="0.85"/>
<line x1="208.10" y1="773.30" x2="217.91" y2="773.30" stroke="#333333" stroke-width="1.7"/>
<circle cx="213.00" cy="756.91" r="1.8" fill="#222"/>
<line x1="224.34" y1="757.56" x2="224.34" y2="769.28" stroke="#333333" stroke-width="1.0"/>
<line x1="224.34" y1="778.12" x2="224.34" y2="788.56" stroke="#333333" stroke-width="1.0"/>
<rect x="219.44" y="769.28" width="9.80" height="8.84" fill="#EF625F" stroke="#333333" stroke-width="0.85"/>
<line x1="219.44" y1="773.78" x2="229.24" y2="773.78" stroke="#333333" stroke-width="1.7"/>
<circle cx="224.34" cy="794.99" r="1.8" fill="#222"/>
<line x1="235.66" y1="756.91" x2="235.66" y2="768.16" stroke="#333333" stroke-width="1.0"/>
<line x1="235.66" y1="776.51" x2="235.66" y2="787.76" stroke="#333333" stroke-width="1.0"/>
<rect x="230.76" y="768.16" width="9.80" height="8.35" fill="#B91F2E" stroke="#333333" stroke-width="0.85"/>
<line x1="230.76" y1="771.69" x2="240.56" y2="771.69" stroke="#333333" stroke-width="1.7"/>
<line x1="247.00" y1="714.34" x2="247.00" y2="721.40" stroke="#333333" stroke-width="1.0"/>
<line x1="247.00" y1="729.44" x2="247.00" y2="740.36" stroke="#333333" stroke-width="1.0"/>
<rect x="242.09" y="721.40" width="9.80" height="8.03" fill="#E07A2F" stroke="#333333" stroke-width="0.85"/>
<line x1="242.09" y1="724.30" x2="251.90" y2="724.30" stroke="#333333" stroke-width="1.7"/>
<circle cx="247.00" cy="741.49" r="1.8" fill="#222"/>
<circle cx="247.00" cy="743.10" r="1.8" fill="#222"/>
<circle cx="247.00" cy="744.70" r="1.8" fill="#222"/>
<line x1="258.32" y1="724.30" x2="258.32" y2="734.42" stroke="#333333" stroke-width="1.0"/>
<line x1="258.32" y1="758.36" x2="258.32" y2="775.71" stroke="#333333" stroke-width="1.0"/>
<rect x="253.42" y="734.42" width="9.80" height="23.94" fill="#CD8AC1" stroke="#333333" stroke-width="0.85"/>
<line x1="253.42" y1="742.45" x2="263.22" y2="742.45" stroke="#333333" stroke-width="1.7"/>
<line x1="269.65" y1="751.61" x2="269.65" y2="761.25" stroke="#333333" stroke-width="1.0"/>
<line x1="269.65" y1="772.50" x2="269.65" y2="781.66" stroke="#333333" stroke-width="1.0"/>
<rect x="264.75" y="761.25" width="9.80" height="11.25" fill="#3C9A48" stroke="#333333" stroke-width="0.85"/>
<line x1="264.75" y1="767.36" x2="274.55" y2="767.36" stroke="#333333" stroke-width="1.7"/>
<line x1="230.00" y1="827.00" x2="230.00" y2="829.20" stroke="#4D4D4D" stroke-width="0.8"/>
<text x="229.90" y="836.60" font-size="9.6" text-anchor="middle" font-weight="normal" fill="#2E2E2E" >Trait2</text>
<rect x="305.90" y="686.00" width="265.60" height="15.70" fill="#D9D9D9"/>
<text x="438.20" y="697.70" font-size="9.5" font-weight="bold" fill="#1A1A1A" text-anchor="middle"><tspan font-style="italic">h</tspan><tspan font-size="6.2" dy="-3.4">2</tspan><tspan dy="3.4">={0.2 0.8}</tspan></text>
<rect x="305.90" y="701.70" width="265.60" height="125.30" fill="#FFFFFF"/>
<rect x="306.40" y="702.20" width="264.60" height="124.30" fill="none" stroke="#D9D9D9" stroke-width="1"/>
<line x1="339.00" y1="767.68" x2="339.00" y2="773.62" stroke="#333333" stroke-width="1.0"/>
<line x1="339.00" y1="789.05" x2="339.00" y2="808.65" stroke="#333333" stroke-width="1.0"/>
<rect x="334.10" y="773.62" width="9.80" height="15.42" fill="#CB9E2A" stroke="#333333" stroke-width="0.85"/>
<line x1="334.10" y1="781.33" x2="343.89" y2="781.33" stroke="#333333" stroke-width="1.7"/>
<circle cx="339.00" cy="820.70" r="1.8" fill="#222"/>
<line x1="350.32" y1="749.68" x2="350.32" y2="769.61" stroke="#333333" stroke-width="1.0"/>
<line x1="350.32" y1="796.60" x2="350.32" y2="819.09" stroke="#333333" stroke-width="1.0"/>
<rect x="345.43" y="769.61" width="9.80" height="26.99" fill="#8C8C8C" stroke="#333333" stroke-width="0.85"/>
<line x1="345.43" y1="786.48" x2="355.22" y2="786.48" stroke="#333333" stroke-width="1.7"/>
<line x1="361.65" y1="773.30" x2="361.65" y2="784.87" stroke="#333333" stroke-width="1.0"/>
<line x1="361.65" y1="792.58" x2="361.65" y2="801.74" stroke="#333333" stroke-width="1.0"/>
<rect x="356.75" y="784.87" width="9.80" height="7.71" fill="#3C84BF" stroke="#333333" stroke-width="0.85"/>
<line x1="356.75" y1="787.44" x2="366.55" y2="787.44" stroke="#333333" stroke-width="1.7"/>
<circle cx="361.65" cy="766.87" r="1.8" fill="#222"/>
<circle cx="361.65" cy="769.77" r="1.8" fill="#222"/>
<line x1="372.98" y1="761.25" x2="372.98" y2="774.59" stroke="#333333" stroke-width="1.0"/>
<line x1="372.98" y1="786.96" x2="372.98" y2="797.40" stroke="#333333" stroke-width="1.0"/>
<rect x="368.08" y="774.59" width="9.80" height="12.37" fill="#EF625F" stroke="#333333" stroke-width="0.85"/>
<line x1="368.08" y1="778.92" x2="377.88" y2="778.92" stroke="#333333" stroke-width="1.7"/>
<line x1="384.31" y1="761.25" x2="384.31" y2="775.23" stroke="#333333" stroke-width="1.0"/>
<line x1="384.31" y1="786.64" x2="384.31" y2="797.72" stroke="#333333" stroke-width="1.0"/>
<rect x="379.42" y="775.23" width="9.80" height="11.41" fill="#B91F2E" stroke="#333333" stroke-width="0.85"/>
<line x1="379.42" y1="779.25" x2="389.21" y2="779.25" stroke="#333333" stroke-width="1.7"/>
<line x1="395.64" y1="721.89" x2="395.64" y2="727.03" stroke="#333333" stroke-width="1.0"/>
<line x1="395.64" y1="740.04" x2="395.64" y2="756.43" stroke="#333333" stroke-width="1.0"/>
<rect x="390.75" y="727.03" width="9.80" height="13.01" fill="#E07A2F" stroke="#333333" stroke-width="0.85"/>
<line x1="390.75" y1="733.94" x2="400.54" y2="733.94" stroke="#333333" stroke-width="1.7"/>
<line x1="406.97" y1="728.31" x2="406.97" y2="740.04" stroke="#333333" stroke-width="1.0"/>
<line x1="406.97" y1="765.27" x2="406.97" y2="789.05" stroke="#333333" stroke-width="1.0"/>
<rect x="402.07" y="740.04" width="9.80" height="25.22" fill="#CD8AC1" stroke="#333333" stroke-width="0.85"/>
<line x1="402.07" y1="749.68" x2="411.87" y2="749.68" stroke="#333333" stroke-width="1.7"/>
<line x1="418.30" y1="747.27" x2="418.30" y2="757.72" stroke="#333333" stroke-width="1.0"/>
<line x1="418.30" y1="771.21" x2="418.30" y2="787.76" stroke="#333333" stroke-width="1.0"/>
<rect x="413.40" y="757.72" width="9.80" height="13.50" fill="#3C9A48" stroke="#333333" stroke-width="0.85"/>
<line x1="413.40" y1="764.79" x2="423.20" y2="764.79" stroke="#333333" stroke-width="1.7"/>
<line x1="378.65" y1="827.00" x2="378.65" y2="829.20" stroke="#4D4D4D" stroke-width="0.8"/>
<text x="378.55" y="836.60" font-size="9.6" text-anchor="middle" font-weight="normal" fill="#2E2E2E" >Trait1</text>
<line x1="459.39" y1="755.95" x2="459.39" y2="761.25" stroke="#333333" stroke-width="1.0"/>
<line x1="459.39" y1="766.39" x2="459.39" y2="771.69" stroke="#333333" stroke-width="1.0"/>
<rect x="454.50" y="761.25" width="9.80" height="5.14" fill="#CB9E2A" stroke="#333333" stroke-width="0.85"/>
<line x1="454.50" y1="763.98" x2="464.29" y2="763.98" stroke="#333333" stroke-width="1.7"/>
<line x1="470.73" y1="752.90" x2="470.73" y2="762.38" stroke="#333333" stroke-width="1.0"/>
<line x1="470.73" y1="772.18" x2="470.73" y2="782.62" stroke="#333333" stroke-width="1.0"/>
<rect x="465.83" y="762.38" width="9.80" height="9.80" fill="#8C8C8C" stroke="#333333" stroke-width="0.85"/>
<line x1="465.83" y1="766.55" x2="475.62" y2="766.55" stroke="#333333" stroke-width="1.7"/>
<line x1="482.06" y1="750.00" x2="482.06" y2="759.32" stroke="#333333" stroke-width="1.0"/>
<line x1="482.06" y1="768.96" x2="482.06" y2="783.42" stroke="#333333" stroke-width="1.0"/>
<rect x="477.16" y="759.32" width="9.80" height="9.64" fill="#3C84BF" stroke="#333333" stroke-width="0.85"/>
<line x1="477.16" y1="762.38" x2="486.95" y2="762.38" stroke="#333333" stroke-width="1.7"/>
<line x1="493.38" y1="749.20" x2="493.38" y2="761.25" stroke="#333333" stroke-width="1.0"/>
<line x1="493.38" y1="771.21" x2="493.38" y2="784.23" stroke="#333333" stroke-width="1.0"/>
<rect x="488.49" y="761.25" width="9.80" height="9.96" fill="#EF625F" stroke="#333333" stroke-width="0.85"/>
<line x1="488.49" y1="764.14" x2="498.28" y2="764.14" stroke="#333333" stroke-width="1.7"/>
<line x1="504.72" y1="750.00" x2="504.72" y2="759.32" stroke="#333333" stroke-width="1.0"/>
<line x1="504.72" y1="768.96" x2="504.72" y2="783.42" stroke="#333333" stroke-width="1.0"/>
<rect x="499.82" y="759.32" width="9.80" height="9.64" fill="#B91F2E" stroke="#333333" stroke-width="0.85"/>
<line x1="499.82" y1="762.38" x2="509.62" y2="762.38" stroke="#333333" stroke-width="1.7"/>
<line x1="516.04" y1="707.11" x2="516.04" y2="713.85" stroke="#333333" stroke-width="1.0"/>
<line x1="516.04" y1="723.49" x2="516.04" y2="737.15" stroke="#333333" stroke-width="1.0"/>
<rect x="511.14" y="713.85" width="9.80" height="9.64" fill="#E07A2F" stroke="#333333" stroke-width="0.85"/>
<line x1="511.14" y1="717.07" x2="520.94" y2="717.07" stroke="#333333" stroke-width="1.7"/>
<circle cx="516.04" cy="740.36" r="1.8" fill="#222"/>
<line x1="527.38" y1="709.03" x2="527.38" y2="725.10" stroke="#333333" stroke-width="1.0"/>
<line x1="527.38" y1="744.38" x2="527.38" y2="770.89" stroke="#333333" stroke-width="1.0"/>
<rect x="522.48" y="725.10" width="9.80" height="19.28" fill="#CD8AC1" stroke="#333333" stroke-width="0.85"/>
<line x1="522.48" y1="733.46" x2="532.27" y2="733.46" stroke="#333333" stroke-width="1.7"/>
<line x1="538.71" y1="748.72" x2="538.71" y2="759.16" stroke="#333333" stroke-width="1.0"/>
<line x1="538.71" y1="769.28" x2="538.71" y2="782.62" stroke="#333333" stroke-width="1.0"/>
<rect x="533.81" y="759.16" width="9.80" height="10.12" fill="#3C9A48" stroke="#333333" stroke-width="0.85"/>
<line x1="533.81" y1="762.38" x2="543.61" y2="762.38" stroke="#333333" stroke-width="1.7"/>
<line x1="499.05" y1="827.00" x2="499.05" y2="829.20" stroke="#4D4D4D" stroke-width="0.8"/>
<text x="498.95" y="836.60" font-size="9.6" text-anchor="middle" font-weight="normal" fill="#2E2E2E" >Trait2</text>
<line x1="35.00" y1="726.50" x2="37.20" y2="726.50" stroke="#4D4D4D" stroke-width="0.8"/>
<text x="0" y="0" transform="translate(33.10,730.40) scale(0.97,1.12)" font-size="9.8" text-anchor="end" font-weight="normal" fill="#2E2E2E" >0.75</text>
<line x1="35.00" y1="755.60" x2="37.20" y2="755.60" stroke="#4D4D4D" stroke-width="0.8"/>
<text x="0" y="0" transform="translate(33.10,759.50) scale(0.97,1.12)" font-size="9.8" text-anchor="end" font-weight="normal" fill="#2E2E2E" >0.50</text>
<line x1="35.00" y1="784.40" x2="37.20" y2="784.40" stroke="#4D4D4D" stroke-width="0.8"/>
<text x="0" y="0" transform="translate(33.10,788.30) scale(0.97,1.12)" font-size="9.8" text-anchor="end" font-weight="normal" fill="#2E2E2E" >0.25</text>
<line x1="35.00" y1="813.30" x2="37.20" y2="813.30" stroke="#4D4D4D" stroke-width="0.8"/>
<text x="0" y="0" transform="translate(33.10,817.20) scale(0.97,1.12)" font-size="9.8" text-anchor="end" font-weight="normal" fill="#2E2E2E" >0.00</text>
<text x="0" y="0" font-size="11.9" fill="#000" text-anchor="middle" transform="translate(9.30,763.35) rotate(-90)">Prediction accuracy</text>
</svg></body></html>
